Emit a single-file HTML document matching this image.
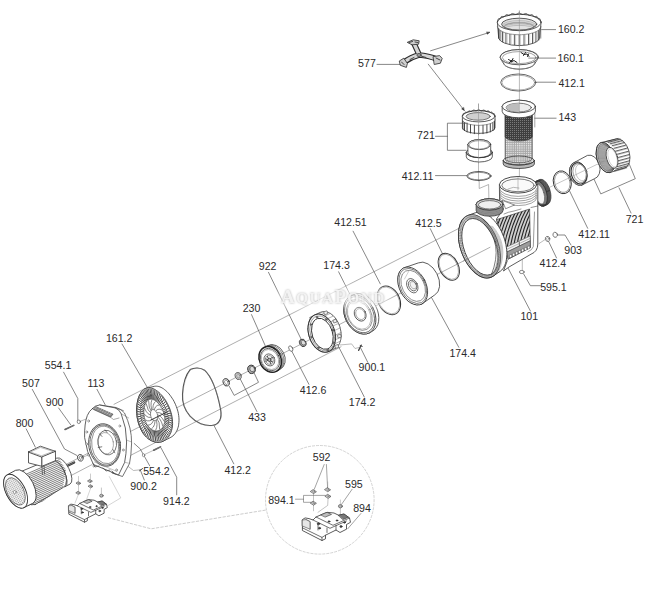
<!DOCTYPE html>
<html><head><meta charset="utf-8"><style>
html,body{margin:0;padding:0;background:#fff;}
svg{display:block;font-family:"Liberation Sans",sans-serif;}
</style></head><body>
<svg width="650" height="593" viewBox="0 0 650 593" stroke-linecap="round" stroke-linejoin="round">
<rect width="650" height="593" fill="#fff"/>
<line x1="114.0" y1="404.3" x2="462.0" y2="226.8" stroke="#777" stroke-width="0.6" />
<line x1="64.0" y1="465.5" x2="505.0" y2="239.7" stroke="#777" stroke-width="0.6" />
<line x1="128.0" y1="456.7" x2="341.0" y2="346.8" stroke="#777" stroke-width="0.6" />
<line x1="69.0" y1="476.6" x2="92.0" y2="464.6" stroke="#777" stroke-width="0.6" />
<line x1="519.4" y1="11.0" x2="519.4" y2="200.0" stroke="#777" stroke-width="0.5" />
<line x1="478.5" y1="104.0" x2="478.5" y2="181.0" stroke="#777" stroke-width="0.5" />
<polyline points="479.2,181.0 479.2,188.5 488.6,184.5 488.9,199.5" stroke="#777" stroke-width="0.55" fill="none" />
<line x1="541.5" y1="29.6" x2="555.6" y2="29.6" stroke="#555" stroke-width="0.7" />
<line x1="528.7" y1="58.1" x2="555.6" y2="58.1" stroke="#555" stroke-width="0.7" />
<line x1="535.8" y1="82.2" x2="555.6" y2="82.2" stroke="#555" stroke-width="0.7" />
<line x1="534.7" y1="118.2" x2="556.1" y2="118.2" stroke="#555" stroke-width="0.7" />
<line x1="377.0" y1="64.4" x2="403.9" y2="64.4" stroke="#555" stroke-width="0.7" />
<line x1="430.6" y1="50.8" x2="489.6" y2="32.4" stroke="#555" stroke-width="0.7" />
<polygon points="489.6,32.4 487.3,34.3 486.6,32.2" stroke="#333" stroke-width="0.4" fill="#333" />
<line x1="428.3" y1="64.2" x2="464.2" y2="110.4" stroke="#555" stroke-width="0.7" />
<polygon points="464.2,110.4 461.6,108.9 463.4,107.5" stroke="#333" stroke-width="0.4" fill="#333" />
<polyline points="462.6,123.2 447.4,123.2 447.4,150.3 466.0,150.3" stroke="#555" stroke-width="0.7" fill="none" />
<line x1="435.5" y1="136.3" x2="447.4" y2="136.3" stroke="#555" stroke-width="0.7" />
<line x1="435.5" y1="175.6" x2="466.8" y2="175.6" stroke="#555" stroke-width="0.7" />
<polyline points="593.8,178.7 600.8,193.9 635.3,178.7 629.0,163.5" stroke="#555" stroke-width="0.7" fill="none" />
<line x1="619.0" y1="187.8" x2="631.0" y2="213.0" stroke="#555" stroke-width="0.7" />
<line x1="569.5" y1="190.8" x2="587.7" y2="228.3" stroke="#555" stroke-width="0.7" />
<polyline points="555.0,235.0 565.0,235.0 571.0,245.0" stroke="#555" stroke-width="0.7" fill="none" />
<line x1="547.7" y1="239.5" x2="556.5" y2="257.9" stroke="#555" stroke-width="0.7" />
<line x1="545.5" y1="239.3" x2="539.1" y2="243.5" stroke="#777" stroke-width="0.5" />
<line x1="522.3" y1="259.6" x2="522.3" y2="270.5" stroke="#777" stroke-width="0.5" />
<polyline points="523.6,273.9 530.4,285.7 540.5,285.7" stroke="#555" stroke-width="0.7" fill="none" />
<line x1="507.6" y1="267.2" x2="530.4" y2="311.0" stroke="#555" stroke-width="0.7" />
<line x1="430.3" y1="228.7" x2="442.4" y2="253.6" stroke="#555" stroke-width="0.7" />
<line x1="430.7" y1="296.0" x2="458.8" y2="347.3" stroke="#555" stroke-width="0.7" />
<line x1="353.1" y1="231.2" x2="380.3" y2="283.9" stroke="#555" stroke-width="0.7" />
<line x1="338.6" y1="271.8" x2="350.7" y2="295.9" stroke="#555" stroke-width="0.7" />
<line x1="268.5" y1="272.3" x2="302.0" y2="341.0" stroke="#555" stroke-width="0.7" />
<line x1="251.5" y1="314.6" x2="268.0" y2="352.0" stroke="#555" stroke-width="0.7" />
<line x1="291.6" y1="350.8" x2="308.9" y2="384.3" stroke="#555" stroke-width="0.7" />
<line x1="338.9" y1="347.3" x2="364.3" y2="397.0" stroke="#555" stroke-width="0.7" />
<polyline points="340.0,345.0 351.6,343.9 355.0,348.5 359.7,347.3" stroke="#777" stroke-width="0.5" fill="none" />
<line x1="360.9" y1="348.5" x2="367.8" y2="362.4" stroke="#555" stroke-width="0.7" />
<polyline points="229.2,386.2 234.2,395.4 258.5,382.3 253.8,372.3" stroke="#555" stroke-width="0.7" fill="none" />
<line x1="240.0" y1="378.5" x2="256.9" y2="411.5" stroke="#555" stroke-width="0.7" />
<line x1="122.0" y1="344.0" x2="150.0" y2="392.0" stroke="#555" stroke-width="0.7" />
<line x1="97.0" y1="389.4" x2="105.1" y2="404.6" stroke="#555" stroke-width="0.7" />
<polyline points="63.6,372.2 77.8,398.5 77.8,420.8" stroke="#555" stroke-width="0.7" fill="none" />
<line x1="58.6" y1="408.0" x2="70.7" y2="424.8" stroke="#555" stroke-width="0.7" />
<polyline points="32.3,389.4 64.5,449.0 77.0,455.5" stroke="#555" stroke-width="0.7" fill="none" />
<line x1="26.2" y1="428.9" x2="35.3" y2="447.1" stroke="#555" stroke-width="0.7" />
<line x1="79.8" y1="421.4" x2="86.9" y2="418.8" stroke="#777" stroke-width="0.5" />
<line x1="82.9" y1="457.2" x2="90.0" y2="454.2" stroke="#777" stroke-width="0.5" />
<line x1="214.0" y1="425.5" x2="233.8" y2="463.8" stroke="#555" stroke-width="0.7" />
<polyline points="134.2,443.5 140.2,448.9 149.7,465.8" stroke="#555" stroke-width="0.7" fill="none" />
<polyline points="128.1,466.4 133.5,470.5 140.2,469.8" stroke="#777" stroke-width="0.5" fill="none" />
<line x1="140.2" y1="469.8" x2="144.3" y2="480.0" stroke="#555" stroke-width="0.7" />
<polyline points="161.2,448.2 176.7,477.2 176.7,494.8" stroke="#555" stroke-width="0.7" fill="none" />
<line x1="153.7" y1="450.2" x2="143.6" y2="455.0" stroke="#777" stroke-width="0.5" />
<path d="M497.40,22.5 L498.60,37 A20.6,8.6 0 0 0 539.80,37 L541.00,22.5 A21.8,8.2 0 0 0 497.40,22.5 Z" stroke="#333" stroke-width="0.8" fill="#fff" />
<ellipse cx="519.2" cy="22.5" rx="21.8" ry="8.2" stroke="#333" stroke-width="0.8" fill="#fff" />
<polyline points="497.4,21.3 497.4,21.2 497.4,21.2 497.4,21.2 497.5,21.2 497.5,21.3 497.5,21.3 497.6,21.4 497.6,21.3 497.7,21.2 497.7,21.0 497.8,20.8 497.9,20.5 498.0,20.2 498.0,19.8 498.1,19.5 498.2,19.2 498.4,18.9 498.5,18.8 498.6,18.7 498.7,18.6 498.8,18.7 499.0,18.7 499.1,18.8 499.3,18.9 499.4,18.9 499.6,18.9 499.8,18.8 500.0,18.6 500.1,18.4 500.3,18.1 500.5,17.8 500.7,17.5 500.9,17.1 501.1,16.9 501.3,16.6 501.6,16.5 501.8,16.4 502.0,16.4 502.3,16.4 502.5,16.5 502.7,16.6 503.0,16.7 503.3,16.8 503.5,16.8 503.8,16.7 504.1,16.6 504.3,16.4 504.6,16.1 504.9,15.8 505.2,15.5 505.5,15.2 505.8,15.0 506.1,14.8 506.4,14.7 506.7,14.6 507.0,14.6 507.3,14.7 507.6,14.8 508.0,15.0 508.3,15.1 508.6,15.2 509.0,15.2 509.3,15.2 509.6,15.1 510.0,14.9 510.3,14.7 510.7,14.5 511.0,14.2 511.4,13.9 511.7,13.7 512.1,13.6 512.5,13.5 512.8,13.5 513.2,13.6 513.6,13.7 513.9,13.8 514.3,14.0 514.7,14.2 515.0,14.3 515.4,14.4 515.8,14.4 516.2,14.3 516.5,14.2 516.9,14.0 517.3,13.8 517.7,13.6 518.1,13.4 518.4,13.2 518.8,13.1 519.2,13.1 519.6,13.1 520.0,13.2 520.3,13.4 520.7,13.6 521.1,13.8 521.5,14.0 521.9,14.2 522.2,14.3 522.6,14.4 523.0,14.4 523.4,14.3 523.7,14.2 524.1,14.0 524.5,13.8 524.8,13.7 525.2,13.6 525.6,13.5 525.9,13.5 526.3,13.6 526.7,13.7 527.0,13.9 527.4,14.2 527.7,14.5 528.1,14.7 528.4,14.9 528.8,15.1 529.1,15.2 529.4,15.2 529.8,15.2 530.1,15.1 530.4,15.0 530.8,14.8 531.1,14.7 531.4,14.6 531.7,14.6 532.0,14.7 532.3,14.8 532.6,15.0 532.9,15.2 533.2,15.5 533.5,15.8 533.8,16.1 534.1,16.4 534.3,16.6 534.6,16.7 534.9,16.8 535.1,16.8 535.4,16.7 535.7,16.6 535.9,16.5 536.1,16.4 536.4,16.4 536.6,16.4 536.8,16.5 537.1,16.6 537.3,16.9 537.5,17.1 537.7,17.5 537.9,17.8 538.1,18.1 538.3,18.4 538.4,18.6 538.6,18.8 538.8,18.9 539.0,18.9 539.1,18.9 539.3,18.8 539.4,18.7 539.6,18.7 539.7,18.6 539.8,18.7 539.9,18.8 540.0,18.9 540.2,19.2 540.3,19.5 540.4,19.8 540.4,20.2 540.5,20.5 540.6,20.8 540.7,21.0 540.7,21.2 540.8,21.3 540.8,21.4 540.9,21.3 540.9,21.3 540.9,21.2 541.0,21.2 541.0,21.2 541.0,21.2 541.0,21.3" stroke="#333" stroke-width="0.8" fill="none" />
<ellipse cx="519.2" cy="24.2" rx="17.6" ry="6.0" stroke="#333" stroke-width="0.8" fill="#e2e2e2" />
<path d="M502.4,25.2 A16.8,4.6 0 0 1 536.0,25.2" stroke="#888" stroke-width="0.45" fill="none" />
<path d="M503.0,26.3 A16.2,4.1 0 0 1 535.4,26.3" stroke="#888" stroke-width="0.45" fill="none" />
<path d="M503.6,27.4 A15.6,3.6 0 0 1 534.8,27.4" stroke="#888" stroke-width="0.45" fill="none" />
<path d="M504.2,28.5 A15.0,3.1 0 0 1 534.2,28.5" stroke="#888" stroke-width="0.45" fill="none" />
<ellipse cx="519.2" cy="26.4" rx="14.8" ry="3.6" stroke="#666" stroke-width="0.5" fill="none" />
<line x1="498.5" y1="28.7" x2="498.5" y2="38.2" stroke="#333" stroke-width="0.8" />
<line x1="499.7" y1="28.7" x2="499.7" y2="38.2" stroke="#999" stroke-width="0.5" />
<line x1="500.0" y1="30.5" x2="500.0" y2="40.0" stroke="#333" stroke-width="0.8" />
<line x1="501.2" y1="30.5" x2="501.2" y2="40.0" stroke="#999" stroke-width="0.5" />
<line x1="502.5" y1="32.0" x2="502.5" y2="41.7" stroke="#333" stroke-width="0.8" />
<line x1="503.7" y1="32.0" x2="503.7" y2="41.7" stroke="#999" stroke-width="0.5" />
<line x1="505.9" y1="33.4" x2="505.9" y2="43.0" stroke="#333" stroke-width="0.8" />
<line x1="507.1" y1="33.4" x2="507.1" y2="43.0" stroke="#999" stroke-width="0.5" />
<line x1="509.9" y1="34.4" x2="509.9" y2="44.0" stroke="#333" stroke-width="0.8" />
<line x1="511.1" y1="34.4" x2="511.1" y2="44.0" stroke="#999" stroke-width="0.5" />
<line x1="514.4" y1="35.0" x2="514.4" y2="44.7" stroke="#333" stroke-width="0.8" />
<line x1="515.6" y1="35.0" x2="515.6" y2="44.7" stroke="#999" stroke-width="0.5" />
<line x1="519.2" y1="35.2" x2="519.2" y2="44.9" stroke="#333" stroke-width="0.8" />
<line x1="520.4" y1="35.2" x2="520.4" y2="44.9" stroke="#999" stroke-width="0.5" />
<line x1="524.0" y1="35.0" x2="524.0" y2="44.7" stroke="#333" stroke-width="0.8" />
<line x1="525.2" y1="35.0" x2="525.2" y2="44.7" stroke="#999" stroke-width="0.5" />
<line x1="528.5" y1="34.4" x2="528.5" y2="44.0" stroke="#333" stroke-width="0.8" />
<line x1="529.7" y1="34.4" x2="529.7" y2="44.0" stroke="#999" stroke-width="0.5" />
<line x1="532.5" y1="33.4" x2="532.5" y2="43.0" stroke="#333" stroke-width="0.8" />
<line x1="533.7" y1="33.4" x2="533.7" y2="43.0" stroke="#999" stroke-width="0.5" />
<line x1="535.9" y1="32.0" x2="535.9" y2="41.7" stroke="#333" stroke-width="0.8" />
<line x1="537.1" y1="32.0" x2="537.1" y2="41.7" stroke="#999" stroke-width="0.5" />
<line x1="538.4" y1="30.5" x2="538.4" y2="40.0" stroke="#333" stroke-width="0.8" />
<line x1="539.6" y1="30.5" x2="539.6" y2="40.0" stroke="#999" stroke-width="0.5" />
<line x1="539.9" y1="28.7" x2="539.9" y2="38.2" stroke="#333" stroke-width="0.8" />
<line x1="541.1" y1="28.7" x2="541.1" y2="38.2" stroke="#999" stroke-width="0.5" />
<polyline points="541.0,26.5 540.9,27.4 540.5,28.2 539.9,29.0 539.1,29.8 538.1,30.6 536.8,31.3 535.4,32.0 533.8,32.6 532.0,33.1 530.1,33.6 528.1,34.0 525.9,34.3 523.7,34.5 521.5,34.7 519.2,34.7 516.9,34.7 514.7,34.5 512.5,34.3 510.3,34.0 508.3,33.6 506.4,33.1 504.6,32.6 503.0,32.0 501.6,31.3 500.3,30.6 499.3,29.8 498.5,29.0 497.9,28.2 497.5,27.4 497.4,26.5" stroke="#555" stroke-width="0.6" fill="none" />
<polygon points="500.2,57.2 500.3,56.5 500.5,55.9 500.8,55.2 501.3,54.6 502.0,54.0 502.7,53.4 503.6,52.8 504.6,52.3 505.8,51.8 507.0,51.4 508.3,51.0 509.7,50.6 511.2,50.3 512.7,50.1 514.3,49.9 515.9,49.7 517.5,49.6 519.2,49.6 520.9,49.6 522.5,49.7 524.1,49.9 525.7,50.1 527.2,50.3 528.7,50.6 530.1,51.0 531.4,51.4 532.6,51.8 533.8,52.3 534.8,52.8 535.7,53.4 536.4,54.0 537.1,54.6 537.6,55.2 537.9,55.9 538.1,56.5 538.2,57.2 538.1,57.9 537.9,58.5 537.6,59.2 534.3,64.4 533.9,65.0 533.3,65.5 532.7,66.0 532.0,66.4 531.2,66.8 530.2,67.3 529.2,67.6 528.1,68.0 527.0,68.3 525.8,68.5 524.5,68.7 523.2,68.9 521.9,69.0 520.6,69.1 519.2,69.1 517.8,69.1 516.5,69.0 515.2,68.9 513.9,68.7 512.6,68.5 511.4,68.3 510.3,68.0 509.2,67.6 508.2,67.3 507.2,66.8 506.4,66.4 505.7,66.0 505.1,65.5 504.5,65.0 504.1,64.4 500.8,59.2 500.5,58.5 500.3,57.9" stroke="#333" stroke-width="0.8" fill="#fff" />
<ellipse cx="519.2" cy="62.8" rx="15.6" ry="6.3" stroke="#777" stroke-width="0.5" fill="none" />
<ellipse cx="519.2" cy="57.2" rx="19.0" ry="7.6" stroke="#333" stroke-width="0.8" fill="#fff" />
<ellipse cx="519.2" cy="57.6" rx="16.8" ry="6.0" stroke="#666" stroke-width="0.6" fill="none" />
<path d="M508.5,59.5 L512,61.5 L514,60.5 L517,62.5 M509.5,62.5 L512.5,59.5 M511.5,62 L513,58.5" stroke="#222" stroke-width="1.0" fill="none" />
<path d="M521,52.5 L524,54.5 L527,54 L529,56.5 M523.5,55.5 L525.5,52.5 M527.5,56.5 L528.5,54" stroke="#222" stroke-width="1.0" fill="none" />
<ellipse cx="518.3" cy="82.5" rx="17.6" ry="8.5" stroke="#444" stroke-width="0.8" fill="none" />
<ellipse cx="518.3" cy="82.6" rx="16.4" ry="7.4" stroke="#777" stroke-width="0.6" fill="none" />
<defs><pattern id="dm" width="2" height="2" patternUnits="userSpaceOnUse"><rect width="2" height="2" fill="#3e3e3e"/><rect width="1" height="1" fill="#7a7a7a"/></pattern><pattern id="lm" width="2.2" height="2.2" patternUnits="userSpaceOnUse"><rect width="2.2" height="2.2" fill="#a8a8a8"/><rect width="1.2" height="1.2" fill="#efefef"/></pattern></defs>
<path d="M505.2,112 L505.2,159 A13.6,4.5 0 0 0 532.2,159 L532.2,112 Z" stroke="#333" stroke-width="0.7" fill="url(#lm)" />
<path d="M505.2,112 L505.2,137 A13.6,4.5 0 0 0 532.2,137 L532.2,112 Z" stroke="#333" stroke-width="0.7" fill="url(#dm)" />
<path d="M503.20,160.5 L503.20,164 A15.6,4.5 0 0 0 534.40,164 L534.40,160.5 A15.6,4.5 0 0 1 503.20,160.5 Z" stroke="#333" stroke-width="0.8" fill="#b8b8b8" />
<ellipse cx="518.8" cy="160.5" rx="15.6" ry="4.5" stroke="#333" stroke-width="0.8" fill="none" />
<path d="M505.2,160.5 A13.6,4.5 0 0 0 532.2,160.5" stroke="#555" stroke-width="0.6" fill="none" />
<path d="M502.20,106.50 L502.20,111.50 A16.60,6.30 0 0 0 535.40,111.50 L535.40,106.50 A16.60,6.30 0 0 0 502.20,106.50 Z" stroke="#333" stroke-width="0.8" fill="#fff" />
<ellipse cx="518.8" cy="106.5" rx="16.6" ry="6.3" stroke="#333" stroke-width="0.8" fill="#fff" />
<ellipse cx="518.8" cy="107.6" rx="12.6" ry="4.4" stroke="#444" stroke-width="0.7" fill="#ececec" />
<path d="M506.4,108 A12.6,4.4 0 0 1 519,103.2 L519,111.9 A12.6,4.4 0 0 1 506.4,108 Z" stroke="none" stroke-width="0" fill="#bdbdbd" />
<line x1="534.8" y1="113.0" x2="534.8" y2="127.0" stroke="#666" stroke-width="0.6" />
<path d="M413.5,42.5 Q417,50 419,54.5 M403.5,62.5 Q411,57 419,55 Q428,55.5 438,59.5" stroke="#2a2a2a" stroke-width="5.6" fill="none" stroke-linecap="butt"/>
<path d="M413.5,42.5 Q417,50 419,54.5 M403.5,62.5 Q411,57 419,55 Q428,55.5 438,59.5" stroke="#d6d6d6" stroke-width="3.4" fill="none" stroke-linecap="butt"/>
<polygon points="407.6,42.2 413.2,39.8 419.2,40.8 418.6,44.2 412.4,44.8" stroke="#2a2a2a" stroke-width="0.8" fill="#cfcfcf" />
<polygon points="399.6,60.8 403.8,58.2 407.4,63.4 406.4,67.4 400.6,65.4" stroke="#2a2a2a" stroke-width="0.8" fill="#cfcfcf" />
<polygon points="433.4,56.6 439.6,55.6 442.2,58.4 440.4,63.2 434.6,64.4" stroke="#2a2a2a" stroke-width="0.8" fill="#cfcfcf" />
<path d="M409,42.5 L412.5,41.5 M415,42 L418,42.5 M401.5,62 L404,64.5 M436,58 L440,60 M421,56 L426,57.5 M410,59.5 L414,57.5" stroke="#333" stroke-width="0.9" fill="none" />
<ellipse cx="419.0" cy="55.0" rx="2.2" ry="1.6" stroke="#333" stroke-width="0.7" fill="#999" />
<path d="M462.40,116.30 L462.40,127.80 A16.30,5.60 0 0 0 495.00,127.80 L495.00,116.30 A16.30,5.60 0 0 0 462.40,116.30 Z" stroke="#333" stroke-width="0.8" fill="#fff" />
<ellipse cx="478.7" cy="116.3" rx="16.3" ry="5.6" stroke="#333" stroke-width="0.8" fill="#fff" />
<polyline points="462.4,115.4 462.4,115.3 462.4,115.3 462.4,115.3 462.4,115.4 462.5,115.4 462.5,115.5 462.5,115.5 462.6,115.5 462.6,115.4 462.6,115.3 462.7,115.1 462.8,114.9 462.8,114.7 462.9,114.4 463.0,114.2 463.0,114.0 463.1,113.8 463.2,113.7 463.3,113.6 463.4,113.6 463.5,113.6 463.6,113.7 463.7,113.7 463.8,113.8 463.9,113.8 464.0,113.8 464.2,113.8 464.3,113.6 464.4,113.5 464.6,113.3 464.7,113.0 464.9,112.8 465.0,112.6 465.2,112.4 465.3,112.2 465.5,112.1 465.7,112.1 465.9,112.1 466.0,112.1 466.2,112.2 466.4,112.3 466.6,112.3 466.8,112.4 467.0,112.4 467.2,112.3 467.4,112.2 467.6,112.1 467.8,111.9 468.0,111.7 468.2,111.5 468.4,111.3 468.7,111.1 468.9,111.0 469.1,110.9 469.4,110.8 469.6,110.9 469.8,110.9 470.1,111.0 470.3,111.1 470.5,111.2 470.8,111.3 471.0,111.3 471.3,111.3 471.6,111.2 471.8,111.1 472.1,111.0 472.3,110.8 472.6,110.6 472.9,110.4 473.1,110.2 473.4,110.1 473.7,110.1 473.9,110.1 474.2,110.1 474.5,110.2 474.8,110.3 475.0,110.5 475.3,110.6 475.6,110.7 475.9,110.8 476.2,110.8 476.4,110.7 476.7,110.6 477.0,110.5 477.3,110.3 477.6,110.2 477.8,110.0 478.1,109.9 478.4,109.8 478.7,109.8 479.0,109.8 479.3,109.9 479.6,110.0 479.8,110.2 480.1,110.3 480.4,110.5 480.7,110.6 481.0,110.7 481.2,110.8 481.5,110.8 481.8,110.7 482.1,110.6 482.4,110.5 482.6,110.3 482.9,110.2 483.2,110.1 483.5,110.1 483.7,110.1 484.0,110.1 484.3,110.2 484.5,110.4 484.8,110.6 485.1,110.8 485.3,111.0 485.6,111.1 485.8,111.2 486.1,111.3 486.4,111.3 486.6,111.3 486.8,111.2 487.1,111.1 487.3,111.0 487.6,110.9 487.8,110.9 488.0,110.8 488.3,110.9 488.5,111.0 488.7,111.1 489.0,111.3 489.2,111.5 489.4,111.7 489.6,111.9 489.8,112.1 490.0,112.2 490.2,112.3 490.4,112.4 490.6,112.4 490.8,112.3 491.0,112.3 491.2,112.2 491.4,112.1 491.5,112.1 491.7,112.1 491.9,112.1 492.1,112.2 492.2,112.4 492.4,112.6 492.5,112.8 492.7,113.0 492.8,113.3 493.0,113.5 493.1,113.6 493.2,113.8 493.4,113.8 493.5,113.8 493.6,113.8 493.7,113.7 493.8,113.7 493.9,113.6 494.0,113.6 494.1,113.6 494.2,113.7 494.3,113.8 494.4,114.0 494.4,114.2 494.5,114.4 494.6,114.7 494.6,114.9 494.7,115.1 494.8,115.3 494.8,115.4 494.8,115.5 494.9,115.5 494.9,115.5 494.9,115.4 495.0,115.4 495.0,115.3 495.0,115.3 495.0,115.3 495.0,115.4" stroke="#333" stroke-width="0.8" fill="none" />
<ellipse cx="478.2" cy="116.4" rx="12.1" ry="3.8" stroke="#444" stroke-width="0.7" fill="#d0d0d0" />
<line x1="462.9" y1="121.3" x2="462.9" y2="129.0" stroke="#333" stroke-width="0.9" />
<line x1="464.5" y1="122.6" x2="464.5" y2="130.6" stroke="#333" stroke-width="0.9" />
<line x1="467.1" y1="123.8" x2="467.1" y2="131.9" stroke="#333" stroke-width="0.9" />
<line x1="470.5" y1="124.7" x2="470.5" y2="133.0" stroke="#333" stroke-width="0.9" />
<line x1="474.4" y1="125.3" x2="474.4" y2="133.7" stroke="#333" stroke-width="0.9" />
<line x1="478.7" y1="125.5" x2="478.7" y2="133.9" stroke="#333" stroke-width="0.9" />
<line x1="483.0" y1="125.3" x2="483.0" y2="133.7" stroke="#333" stroke-width="0.9" />
<line x1="486.9" y1="124.7" x2="486.9" y2="133.0" stroke="#333" stroke-width="0.9" />
<line x1="490.3" y1="123.8" x2="490.3" y2="131.9" stroke="#333" stroke-width="0.9" />
<line x1="492.9" y1="122.6" x2="492.9" y2="130.6" stroke="#333" stroke-width="0.9" />
<line x1="494.5" y1="121.3" x2="494.5" y2="129.0" stroke="#333" stroke-width="0.9" />
<polyline points="495.0,119.7 494.9,120.3 494.6,120.9 494.2,121.4 493.6,122.0 492.8,122.5 491.9,123.0 490.8,123.4 489.6,123.9 488.3,124.2 486.8,124.5 485.3,124.8 483.7,125.0 482.1,125.2 480.4,125.3 478.7,125.3 477.0,125.3 475.3,125.2 473.7,125.0 472.1,124.8 470.6,124.5 469.1,124.2 467.8,123.9 466.6,123.4 465.5,123.0 464.6,122.5 463.8,122.0 463.2,121.4 462.8,120.9 462.5,120.3 462.4,119.7" stroke="#555" stroke-width="0.6" fill="none" />
<path d="M466.30,152.50 L466.30,156.80 A13.00,5.20 0 0 0 492.30,156.80 L492.30,152.50 A13.00,5.20 0 0 0 466.30,152.50 Z" stroke="#333" stroke-width="0.8" fill="#fff" />
<ellipse cx="479.3" cy="152.5" rx="13.0" ry="5.2" stroke="#333" stroke-width="0.8" fill="#fff" />
<path d="M467.90,144.60 L467.90,152.50 A11.40,5.00 0 0 0 490.70,152.50 L490.70,144.60 A11.40,5.00 0 0 0 467.90,144.60 Z" stroke="#333" stroke-width="0.8" fill="#fff" />
<ellipse cx="479.3" cy="144.6" rx="11.4" ry="5.0" stroke="#333" stroke-width="0.8" fill="#fff" />
<ellipse cx="479.3" cy="144.9" rx="10.2" ry="4.2" stroke="#666" stroke-width="0.6" fill="none" />
<path d="M466.3,152.5 A13,5.2 0 0 0 492.3,152.5" stroke="#333" stroke-width="0.7" fill="none" />
<ellipse cx="479.0" cy="176.0" rx="12.1" ry="4.5" stroke="#333" stroke-width="0.8" fill="none" />
<ellipse cx="479.0" cy="176.1" rx="11.1" ry="3.7" stroke="#555" stroke-width="0.6" fill="none" />
<polygon points="532.9,188.9 532.9,187.9 533.0,187.0 533.2,186.1 533.4,185.2 533.6,184.4 533.9,183.7 534.3,183.0 534.7,182.5 535.1,182.0 535.6,181.6 536.1,181.3 539.5,179.7 540.0,179.5 540.6,179.4 541.2,179.4 541.8,179.5 542.4,179.6 543.0,179.9 543.7,180.3 544.3,180.7 544.9,181.3 545.6,181.9 546.2,182.6 546.7,183.3 547.3,184.2 547.8,185.1 548.3,186.0 548.8,187.0 549.2,188.0 549.6,189.1 549.9,190.2 550.2,191.3 550.5,192.4 550.7,193.5 550.8,194.6 550.9,195.6 550.9,196.7 550.9,197.7 550.8,198.6 550.6,199.5 550.4,200.4 550.2,201.2 549.9,201.9 549.5,202.6 549.1,203.1 548.7,203.6 548.2,204.0 547.7,204.3 544.3,205.9 543.8,206.1 543.2,206.2 542.6,206.2 542.0,206.1 541.4,206.0 540.8,205.7 540.1,205.3 539.5,204.9 538.9,204.3 538.2,203.7 537.6,203.0 537.1,202.3 536.5,201.4 536.0,200.5 535.5,199.6 535.0,198.6 534.6,197.6 534.2,196.5 533.9,195.4 533.6,194.3 533.3,193.2 533.1,192.1 533.0,191.0 532.9,190.0" stroke="#333" stroke-width="0.8" fill="#8a8a8a" />
<ellipse cx="540.2" cy="193.6" rx="6.6" ry="13.0" stroke="#333" stroke-width="0.8" fill="#7a7a7a" transform="rotate(-16 540.2 193.6)" />
<ellipse cx="540.2" cy="193.6" rx="6.6" ry="13.0" stroke="#333" stroke-width="0.4" fill="none" transform="rotate(-16 540.2 193.6)" />
<ellipse cx="540.7" cy="193.4" rx="6.6" ry="13.0" stroke="#333" stroke-width="0.4" fill="none" transform="rotate(-16 540.7 193.4)" />
<ellipse cx="541.2" cy="193.1" rx="6.6" ry="13.0" stroke="#333" stroke-width="0.4" fill="none" transform="rotate(-16 541.2 193.1)" />
<ellipse cx="541.7" cy="192.9" rx="6.6" ry="13.0" stroke="#333" stroke-width="0.4" fill="none" transform="rotate(-16 541.7 192.9)" />
<ellipse cx="542.2" cy="192.7" rx="6.6" ry="13.0" stroke="#333" stroke-width="0.4" fill="none" transform="rotate(-16 542.2 192.7)" />
<ellipse cx="542.7" cy="192.4" rx="6.6" ry="13.0" stroke="#333" stroke-width="0.4" fill="none" transform="rotate(-16 542.7 192.4)" />
<ellipse cx="543.2" cy="192.2" rx="6.6" ry="13.0" stroke="#333" stroke-width="0.4" fill="none" transform="rotate(-16 543.2 192.2)" />
<ellipse cx="539.4" cy="194.0" rx="4.6" ry="10.4" stroke="#555" stroke-width="0.6" fill="#f4f4f4" transform="rotate(-16 539.4 194.0)" />
<path d="M499.4,185 L499.6,203 L503.5,209 L496.5,219 L507.2,261 L503.5,271 L509,267 L531,254.2 Q537.8,251.5 537.8,244 L537.8,185 Z" stroke="#333" stroke-width="0.8" fill="#fff" />
<path d="M499.6,188.5 A18.4,7.8 0 0 0 536.8,188.5" stroke="#555" stroke-width="0.55" fill="none" />
<path d="M499.6,190.8 A18.4,7.8 0 0 0 536.8,190.8" stroke="#555" stroke-width="0.55" fill="none" />
<path d="M499.6,193.1 A18.4,7.8 0 0 0 536.8,193.1" stroke="#555" stroke-width="0.55" fill="none" />
<path d="M499.6,195.4 A18.4,7.8 0 0 0 536.8,195.4" stroke="#555" stroke-width="0.55" fill="none" />
<path d="M499.6,197.7 A18.4,7.8 0 0 0 536.8,197.7" stroke="#555" stroke-width="0.55" fill="none" />
<ellipse cx="518.0" cy="184.8" rx="18.6" ry="8.3" stroke="#333" stroke-width="0.9" fill="#fff" />
<ellipse cx="518.0" cy="185.3" rx="16.2" ry="6.4" stroke="#444" stroke-width="0.7" fill="#fafafa" />
<path d="M508,189 Q513,186 519,188" stroke="#777" stroke-width="0.5" fill="none" />
<path d="M537.8,206 L531,207.5" stroke="#444" stroke-width="0.6" fill="none" />
<path d="M534.5,212 L533.3,246.5 Q532.5,250 528,251.8" stroke="#555" stroke-width="0.6" fill="none" />
<clipPath id="win"><polygon points="497,219.5 529.6,209 530.2,236 505.5,247.5"/></clipPath>
<polygon points="497.0,219.5 529.6,209.0 530.4,247.5 508.5,259.0" stroke="#444" stroke-width="0.7" fill="#cfcfcf" />
<g clip-path="url(#win)"><path d="M487.7,252 Q491.7,226 502.7,207" stroke="#262626" stroke-width="1.1" fill="none"/><path d="M490.8,252 Q494.8,226 505.8,207" stroke="#262626" stroke-width="1.1" fill="none"/><path d="M493.9,252 Q497.9,226 508.9,207" stroke="#262626" stroke-width="1.1" fill="none"/><path d="M497.0,252 Q501.0,226 512.0,207" stroke="#262626" stroke-width="1.1" fill="none"/><path d="M500.1,252 Q504.1,226 515.1,207" stroke="#262626" stroke-width="1.1" fill="none"/><path d="M503.2,252 Q507.2,226 518.2,207" stroke="#262626" stroke-width="1.1" fill="none"/><path d="M506.3,252 Q510.3,226 521.3,207" stroke="#262626" stroke-width="1.1" fill="none"/><path d="M509.4,252 Q513.4,226 524.4,207" stroke="#262626" stroke-width="1.1" fill="none"/><path d="M512.5,252 Q516.5,226 527.5,207" stroke="#262626" stroke-width="1.1" fill="none"/><path d="M515.6,252 Q519.6,226 530.6,207" stroke="#262626" stroke-width="1.1" fill="none"/><path d="M518.7,252 Q522.7,226 533.7,207" stroke="#262626" stroke-width="1.1" fill="none"/><path d="M521.8,252 Q525.8,226 536.8,207" stroke="#262626" stroke-width="1.1" fill="none"/><path d="M524.9,252 Q528.9,226 539.9,207" stroke="#262626" stroke-width="1.1" fill="none"/><path d="M528.0,252 Q532.0,226 543.0,207" stroke="#262626" stroke-width="1.1" fill="none"/><path d="M531.1,252 Q535.1,226 546.1,207" stroke="#262626" stroke-width="1.1" fill="none"/><path d="M534.2,252 Q538.2,226 549.2,207" stroke="#262626" stroke-width="1.1" fill="none"/></g>
<polygon points="505.5,247.5 530.2,236.0 530.3,240.8 507.0,252.0" stroke="#444" stroke-width="0.6" fill="#f2f2f2" />
<line x1="519.3" y1="242.0" x2="519.5" y2="250.5" stroke="#444" stroke-width="0.8" />
<line x1="506.2" y1="249.6" x2="530.2" y2="238.4" stroke="#777" stroke-width="0.5" />
<polygon points="507.0,252.0 530.3,240.8 530.4,247.5 508.5,259.0" stroke="#444" stroke-width="0.6" fill="#9c9c9c" />
<polygon points="509.5,255.2 511.5,254.2 511.9,256.8 509.9,257.8" stroke="#333" stroke-width="0.4" fill="#fff" />
<polygon points="512.5,253.8 514.5,252.8 514.9,255.4 512.9,256.3" stroke="#333" stroke-width="0.4" fill="#fff" />
<polygon points="515.5,252.4 517.5,251.4 517.9,254.0 515.9,254.9" stroke="#333" stroke-width="0.4" fill="#fff" />
<polygon points="518.5,250.9 520.5,250.0 520.9,252.5 518.9,253.5" stroke="#333" stroke-width="0.4" fill="#fff" />
<polygon points="521.5,249.5 523.5,248.6 523.9,251.1 521.9,252.1" stroke="#333" stroke-width="0.4" fill="#fff" />
<polygon points="524.5,248.1 526.5,247.2 526.9,249.7 524.9,250.7" stroke="#333" stroke-width="0.4" fill="#fff" />
<polygon points="527.5,246.7 529.5,245.7 529.9,248.3 527.9,249.2" stroke="#333" stroke-width="0.4" fill="#fff" />
<polygon points="458.5,233.9 458.6,231.4 458.9,229.1 459.4,226.8 460.0,224.7 460.7,222.8 461.6,221.0 462.7,219.5 463.8,218.1 465.1,217.0 466.5,216.1 468.0,215.4 475.3,212.8 476.9,212.4 478.5,212.2 480.1,212.2 481.9,212.4 483.6,212.9 485.4,213.7 487.1,214.6 488.9,215.7 490.7,217.1 492.4,218.7 494.1,220.4 495.7,222.3 497.2,224.4 498.7,226.6 500.1,228.9 501.4,231.3 502.5,233.9 503.6,236.5 504.5,239.1 505.2,241.8 505.9,244.4 506.3,247.1 506.7,249.7 506.9,252.3 506.9,254.8 506.7,257.2 506.4,259.5 506.0,261.7 505.4,263.7 504.7,265.6 503.8,267.3 502.8,268.8 501.7,270.1 500.4,271.2 493.9,275.6 492.5,276.5 491.0,277.2 489.4,277.7 487.8,277.9 486.1,277.9 484.3,277.6 482.5,277.1 480.7,276.4 478.8,275.4 477.0,274.2 475.2,272.8 473.4,271.2 471.7,269.4 470.0,267.4 468.4,265.3 466.9,263.0 465.5,260.6 464.1,258.1 462.9,255.5 461.9,252.9 460.9,250.1 460.1,247.4 459.5,244.6 459.0,241.9 458.7,239.2 458.5,236.5" stroke="#333" stroke-width="0.9" fill="#fff" />
<ellipse cx="479.5" cy="246.3" rx="18.8" ry="33.0" stroke="#333" stroke-width="0.9" fill="#fff" transform="rotate(-20.4 479.5 246.3)" />
<path d="M496.7,239.9 L495.5,242.0 M497.4,241.6 L496.0,243.6 M497.9,243.4 L496.5,245.2 M498.4,245.2 L497.0,246.9 M498.9,247.0 L497.3,248.5 M499.2,248.7 L497.7,250.1 M499.6,250.5 L497.9,251.7 M499.8,252.2 L498.1,253.3 M500.0,254.0 L498.3,254.9 M500.1,255.7 L498.4,256.5 M500.1,257.4 L498.4,258.0 M500.1,259.0 L498.4,259.5 M500.0,260.6 L498.3,260.9 M499.9,262.2 L498.1,262.3 M499.6,263.7 L497.9,263.7 M499.4,265.1 L497.7,265.0 M499.0,266.5 L497.3,266.2 M498.6,267.8 L497.0,267.4 M498.1,269.1 L496.5,268.5 M497.6,270.2 L496.0,269.5 M497.0,271.3 L495.5,270.4 M496.3,272.4 L494.9,271.3 M495.6,273.3 L494.3,272.1 M494.8,274.1 L493.6,272.8 M494.0,274.9 L492.8,273.5 M493.2,275.5 L492.1,274.0 M492.3,276.1 L491.3,274.5 M491.3,276.6 L490.4,274.8 M490.3,276.9 L489.5,275.1 M489.3,277.2 L488.6,275.3 M488.3,277.4 L487.7,275.4 M487.2,277.4 L486.7,275.4 M486.1,277.4 L485.7,275.3 M484.9,277.3 L484.7,275.1 M483.8,277.0 L483.7,274.8 M482.6,276.7 L482.6,274.4 M481.5,276.2 L481.6,274.0 M480.3,275.7 L480.5,273.4 M479.1,275.1 L479.5,272.8 M477.9,274.3 L478.4,272.1 M476.8,273.5 L477.4,271.2 M475.6,272.6 L476.3,270.4 M474.5,271.6 L475.3,269.4 M473.3,270.5 L474.3,268.4 M472.2,269.4 L473.3,267.3 M471.1,268.2 L472.4,266.1 M470.1,266.9 L471.4,264.8 M469.0,265.5 L470.5,263.5 M468.0,264.1 L469.6,262.2 M467.1,262.6 L468.8,260.8 M466.1,261.0 L467.9,259.3 M465.3,259.4 L467.2,257.9 M464.4,257.8 L466.4,256.3 M463.7,256.1 L465.7,254.8 M462.9,254.4 L465.1,253.2 M462.3,252.7 L464.5,251.6 M461.6,251.0 L464.0,250.0 M461.1,249.2 L463.5,248.4 M460.6,247.4 L463.0,246.7 M460.1,245.6 L462.7,245.1 M459.8,243.9 L462.3,243.5 M459.4,242.1 L462.1,241.9 M459.2,240.4 L461.9,240.3 M459.0,238.6 L461.7,238.7 M458.9,236.9 L461.6,237.1 M458.9,235.2 L461.6,235.6 M458.9,233.6 L461.6,234.1 M459.0,232.0 L461.7,232.7 M459.1,230.4 L461.9,231.3 M459.4,228.9 L462.1,229.9 M459.6,227.5 L462.3,228.6 M460.0,226.1 L462.7,227.4 M460.4,224.8 L463.0,226.2 M460.9,223.5 L463.5,225.1 M461.4,222.4 L464.0,224.1 M462.0,221.3 L464.5,223.2 M462.7,220.2 L465.1,222.3 M463.4,219.3 L465.7,221.5 M464.2,218.5 L466.4,220.8 M465.0,217.7 L467.2,220.1 M465.8,217.1 L467.9,219.6 M466.7,216.5 L468.7,219.1 M467.7,216.0 L469.6,218.8 M468.7,215.7 L470.5,218.5 M469.7,215.4 L471.4,218.3 M470.7,215.2 L472.3,218.2 M471.8,215.2 L473.3,218.2 M472.9,215.2 L474.3,218.3 M474.1,215.3 L475.3,218.5 M475.2,215.6 L476.3,218.8 M476.4,215.9 L477.4,219.2 M477.5,216.4 L478.4,219.6 M478.7,216.9 L479.5,220.2 M479.9,217.5 L480.5,220.8 M481.1,218.3 L481.6,221.5 M482.2,219.1 L482.6,222.4 M483.4,220.0 L483.7,223.2 M484.5,221.0 L484.7,224.2 M485.7,222.1 L485.7,225.2 M486.8,223.2 L486.7,226.3 M487.9,224.4 L487.6,227.5 M488.9,225.7 L488.6,228.8 M490.0,227.1 L489.5,230.1 M491.0,228.5 L490.4,231.4 M491.9,230.0 L491.2,232.8 M492.9,231.6 L492.1,234.3 M493.7,233.2 L492.8,235.7 M494.6,234.8 L493.6,237.3 M495.3,236.5 L494.3,238.8 M496.1,238.2 L494.9,240.4" stroke="#555" stroke-width="0.55" fill="none"/>
<ellipse cx="479.7" cy="246.5" rx="17.4" ry="31.3" stroke="#777" stroke-width="0.5" fill="none" transform="rotate(-20.4 479.7 246.5)" />
<ellipse cx="480.0" cy="246.8" rx="16.0" ry="29.6" stroke="#333" stroke-width="0.8" fill="#fff" transform="rotate(-20.4 480.0 246.8)" />
<line x1="463.5" y1="260.9" x2="490.0" y2="247.3" stroke="#777" stroke-width="0.6" />
<path d="M483.5,223.5 Q504,243 491.5,274.5" stroke="#444" stroke-width="0.7" fill="none" />
<path d="M485.5,224 Q506,244 493.5,273.5" stroke="#666" stroke-width="0.5" fill="none" />
<path d="M487.3,225.0 Q507.0,245 495.0,272.5" stroke="#888" stroke-width="0.45" fill="none" />
<path d="M488.6,225.3 Q507.6,245 496.0,272.1" stroke="#888" stroke-width="0.45" fill="none" />
<path d="M489.9,225.6 Q508.2,245 497.0,271.7" stroke="#888" stroke-width="0.45" fill="none" />
<path d="M491.2,225.9 Q508.8,245 498.0,271.3" stroke="#888" stroke-width="0.45" fill="none" />
<path d="M492.5,226.2 Q509.4,245 499.0,270.9" stroke="#888" stroke-width="0.45" fill="none" />
<path d="M476.20,204.40 L476.20,210.60 A13.40,5.60 0 0 0 503.00,210.60 L503.00,204.40 A13.40,5.60 0 0 0 476.20,204.40 Z" stroke="#333" stroke-width="0.8" fill="#9a9a9a" />
<ellipse cx="489.6" cy="204.4" rx="13.4" ry="5.6" stroke="#333" stroke-width="0.8" fill="#9a9a9a" />
<path d="M476.2,205.5 A13.4,5.6 0 0 0 503.0,205.5" stroke="#666" stroke-width="0.45" fill="none" />
<path d="M476.2,206.9 A13.4,5.6 0 0 0 503.0,206.9" stroke="#666" stroke-width="0.45" fill="none" />
<path d="M476.2,208.3 A13.4,5.6 0 0 0 503.0,208.3" stroke="#666" stroke-width="0.45" fill="none" />
<path d="M476.2,209.7 A13.4,5.6 0 0 0 503.0,209.7" stroke="#666" stroke-width="0.45" fill="none" />
<ellipse cx="489.6" cy="204.4" rx="13.4" ry="5.6" stroke="#333" stroke-width="0.8" fill="#d5d5d5" />
<ellipse cx="489.6" cy="204.8" rx="11.2" ry="4.2" stroke="#444" stroke-width="0.7" fill="#efefef" />
<polygon points="502.5,200.5 514.5,205.0 506.0,208.6" stroke="#444" stroke-width="0.6" fill="#fff" />
<path d="M504,214 Q508,212 514,211 L521,209" stroke="#555" stroke-width="0.6" fill="none" />
<ellipse cx="562.3" cy="182.3" rx="8.9" ry="11.6" stroke="#333" stroke-width="0.9" fill="none" transform="rotate(-15 562.3 182.3)" />
<ellipse cx="562.3" cy="182.3" rx="7.6" ry="10.3" stroke="#666" stroke-width="0.6" fill="none" transform="rotate(-15 562.3 182.3)" />
<path d="M581.71,185.14 L594.26,178.83 A8.90,12.20 -16 0 0 587.54,155.37 L575.09,162.06 A8.60,12.00 -16 0 0 581.71,185.14 Z" stroke="#333" stroke-width="0.8" fill="#fff" />
<ellipse cx="578.4" cy="173.6" rx="8.6" ry="12.0" stroke="#333" stroke-width="0.8" fill="#fff" transform="rotate(-16 578.4 173.6)" />
<ellipse cx="578.9" cy="173.4" rx="7.6" ry="10.8" stroke="#333" stroke-width="1.1" fill="none" transform="rotate(-16 578.9 173.4)" />
<ellipse cx="579.6" cy="173.1" rx="6.4" ry="9.6" stroke="#666" stroke-width="0.6" fill="#fff" transform="rotate(-16 579.6 173.1)" />
<ellipse cx="581.0" cy="172.6" rx="5.2" ry="8.4" stroke="#999" stroke-width="0.5" fill="none" transform="rotate(-16 581.0 172.6)" />
<path d="M609.90,172.50 L624.79,168.11 A8.80,15.20 -16 0 0 616.41,138.89 L601.30,142.50 A8.80,15.60 -16 0 0 609.90,172.50 Z" stroke="#333" stroke-width="0.8" fill="#fff" />
<line x1="606.1" y1="141.7" x2="618.1" y2="138.5" stroke="#333" stroke-width="0.8" />
<line x1="607.1" y1="142.2" x2="618.6" y2="139.1" stroke="#888" stroke-width="0.5" />
<line x1="608.2" y1="142.4" x2="620.2" y2="139.2" stroke="#333" stroke-width="0.8" />
<line x1="609.2" y1="142.9" x2="620.7" y2="139.8" stroke="#888" stroke-width="0.5" />
<line x1="610.2" y1="143.8" x2="622.2" y2="140.6" stroke="#333" stroke-width="0.8" />
<line x1="611.2" y1="144.3" x2="622.7" y2="141.2" stroke="#888" stroke-width="0.5" />
<line x1="612.2" y1="145.7" x2="624.2" y2="142.5" stroke="#333" stroke-width="0.8" />
<line x1="613.2" y1="146.2" x2="624.7" y2="143.1" stroke="#888" stroke-width="0.5" />
<line x1="613.9" y1="148.3" x2="625.9" y2="145.1" stroke="#333" stroke-width="0.8" />
<line x1="614.9" y1="148.8" x2="626.4" y2="145.7" stroke="#888" stroke-width="0.5" />
<line x1="615.4" y1="151.2" x2="627.4" y2="148.0" stroke="#333" stroke-width="0.8" />
<line x1="616.4" y1="151.7" x2="627.9" y2="148.6" stroke="#888" stroke-width="0.5" />
<line x1="616.6" y1="154.4" x2="628.6" y2="151.2" stroke="#333" stroke-width="0.8" />
<line x1="617.6" y1="154.9" x2="629.1" y2="151.8" stroke="#888" stroke-width="0.5" />
<line x1="617.3" y1="157.7" x2="629.3" y2="154.5" stroke="#333" stroke-width="0.8" />
<line x1="618.3" y1="158.2" x2="629.8" y2="155.1" stroke="#888" stroke-width="0.5" />
<line x1="617.6" y1="160.9" x2="629.6" y2="157.7" stroke="#333" stroke-width="0.8" />
<line x1="618.6" y1="161.4" x2="630.1" y2="158.3" stroke="#888" stroke-width="0.5" />
<line x1="617.4" y1="164.0" x2="629.4" y2="160.8" stroke="#333" stroke-width="0.8" />
<line x1="618.4" y1="164.5" x2="629.9" y2="161.4" stroke="#888" stroke-width="0.5" />
<line x1="616.8" y1="166.7" x2="628.8" y2="163.5" stroke="#333" stroke-width="0.8" />
<line x1="617.8" y1="167.2" x2="629.3" y2="164.1" stroke="#888" stroke-width="0.5" />
<line x1="615.8" y1="169.0" x2="627.8" y2="165.8" stroke="#333" stroke-width="0.8" />
<line x1="616.8" y1="169.5" x2="628.3" y2="166.4" stroke="#888" stroke-width="0.5" />
<line x1="614.4" y1="170.7" x2="626.4" y2="167.5" stroke="#333" stroke-width="0.8" />
<line x1="615.4" y1="171.2" x2="626.9" y2="168.1" stroke="#888" stroke-width="0.5" />
<ellipse cx="605.6" cy="157.5" rx="8.8" ry="15.6" stroke="#333" stroke-width="0.9" fill="#cfcfcf" transform="rotate(-16 605.6 157.5)" />
<ellipse cx="606.2" cy="157.4" rx="7.8" ry="14.4" stroke="#555" stroke-width="0.6" fill="none" transform="rotate(-16 606.2 157.4)" />
<ellipse cx="606.6" cy="157.5" rx="7.2" ry="13.8" stroke="#666" stroke-width="0.45" fill="none" transform="rotate(-16 606.6 157.5)" />
<ellipse cx="607.3" cy="157.5" rx="6.9" ry="13.3" stroke="#666" stroke-width="0.45" fill="none" transform="rotate(-16 607.3 157.5)" />
<ellipse cx="608.0" cy="157.5" rx="6.6" ry="12.8" stroke="#666" stroke-width="0.45" fill="none" transform="rotate(-16 608.0 157.5)" />
<ellipse cx="608.7" cy="157.5" rx="6.3" ry="12.3" stroke="#666" stroke-width="0.45" fill="none" transform="rotate(-16 608.7 157.5)" />
<ellipse cx="609.4" cy="157.5" rx="6.0" ry="11.8" stroke="#666" stroke-width="0.45" fill="none" transform="rotate(-16 609.4 157.5)" />
<ellipse cx="610.1" cy="157.5" rx="5.7" ry="11.3" stroke="#666" stroke-width="0.45" fill="none" transform="rotate(-16 610.1 157.5)" />
<ellipse cx="610.8" cy="157.5" rx="5.4" ry="10.8" stroke="#666" stroke-width="0.45" fill="none" transform="rotate(-16 610.8 157.5)" />
<ellipse cx="612.0" cy="157.8" rx="5.4" ry="10.8" stroke="#333" stroke-width="0.8" fill="#fff" transform="rotate(-16 612.0 157.8)" />
<ellipse cx="612.6" cy="157.8" rx="4.2" ry="9.4" stroke="#999" stroke-width="0.4" fill="none" transform="rotate(-16 612.6 157.8)" />
<ellipse cx="555.2" cy="234.8" rx="2.2" ry="2.6" stroke="#555" stroke-width="0.7" fill="#fff" transform="rotate(-20 555.2 234.8)" />
<ellipse cx="547.6" cy="238.9" rx="2.2" ry="2.6" stroke="#555" stroke-width="0.7" fill="#fff" transform="rotate(-20 547.6 238.9)" />
<ellipse cx="547.6" cy="238.9" rx="1.1" ry="1.4" stroke="#888" stroke-width="0.5" fill="none" transform="rotate(-20 547.6 238.9)" />
<ellipse cx="521.8" cy="272.0" rx="2.4" ry="1.6" stroke="#555" stroke-width="0.7" fill="#fff" />
<ellipse cx="448.8" cy="266.8" rx="9.5" ry="14.4" stroke="#333" stroke-width="0.9" fill="none" transform="rotate(-27.1 448.8 266.8)" />
<ellipse cx="448.8" cy="266.8" rx="8.6" ry="13.4" stroke="#666" stroke-width="0.5" fill="none" transform="rotate(-27.1 448.8 266.8)" />
<path d="M421.90,303.98 L434.70,294.96 A11.88,18.00 -27.1 0 0 418.30,262.92 L403.50,268.02 A13.33,20.20 -27.1 0 0 421.90,303.98 Z" stroke="#333" stroke-width="0.8" fill="#fff" />
<ellipse cx="412.7" cy="286.0" rx="13.3" ry="20.2" stroke="#333" stroke-width="0.8" fill="#fff" transform="rotate(-27.1 412.7 286.0)" />
<ellipse cx="412.9" cy="285.9" rx="12.3" ry="18.7" stroke="#444" stroke-width="0.6" fill="none" transform="rotate(-27.1 412.9 285.9)" />
<ellipse cx="413.2" cy="285.8" rx="11.0" ry="16.6" stroke="#555" stroke-width="0.6" fill="none" transform="rotate(-27.1 413.2 285.8)" />
<ellipse cx="412.3" cy="285.7" rx="5.2" ry="7.6" stroke="#444" stroke-width="0.7" fill="#fff" transform="rotate(-27.1 412.3 285.7)" />
<ellipse cx="412.6" cy="285.6" rx="3.8" ry="5.6" stroke="#444" stroke-width="0.7" fill="#f4f4f4" transform="rotate(-27.1 412.6 285.6)" />
<ellipse cx="413.3" cy="285.2" rx="2.7" ry="3.9" stroke="#777" stroke-width="0.5" fill="none" transform="rotate(-27.1 413.3 285.2)" />
<path d="M404.5,279 L409.2,270.5" stroke="#888" stroke-width="0.4" fill="none" />
<ellipse cx="388.9" cy="300.4" rx="10.7" ry="15.1" stroke="#333" stroke-width="0.9" fill="none" transform="rotate(-27.1 388.9 300.4)" />
<ellipse cx="388.9" cy="300.4" rx="9.9" ry="14.2" stroke="#777" stroke-width="0.5" fill="none" transform="rotate(-27.1 388.9 300.4)" />
<path d="M369.18,332.94 L372.03,331.48 A14.83,20.60 -27.1 0 0 353.26,294.80 L350.42,296.26 A14.83,20.60 -27.1 0 0 369.18,332.94 Z" stroke="#333" stroke-width="0.8" fill="#fff" />
<ellipse cx="359.8" cy="314.6" rx="14.8" ry="20.6" stroke="#333" stroke-width="0.8" fill="#fff" transform="rotate(-27.1 359.8 314.6)" />
<ellipse cx="359.6" cy="314.7" rx="13.7" ry="19.0" stroke="#444" stroke-width="0.7" fill="none" transform="rotate(-27.1 359.6 314.7)" />
<ellipse cx="359.4" cy="314.8" rx="11.8" ry="16.4" stroke="#555" stroke-width="0.6" fill="none" transform="rotate(-27.1 359.4 314.8)" />
<ellipse cx="359.2" cy="314.9" rx="10.8" ry="15.0" stroke="#888" stroke-width="0.5" fill="none" transform="rotate(-27.1 359.2 314.9)" />
<ellipse cx="360.2" cy="314.2" rx="5.6" ry="7.2" stroke="#444" stroke-width="0.8" fill="#fff" transform="rotate(-27.1 360.2 314.2)" />
<ellipse cx="360.4" cy="314.1" rx="4.4" ry="5.7" stroke="#666" stroke-width="0.5" fill="none" transform="rotate(-27.1 360.4 314.1)" />
<polygon points="308.0,329.0 308.1,327.4 308.2,325.8 308.4,324.3 308.8,322.9 309.2,321.5 309.7,320.2 310.4,319.1 311.1,318.0 311.9,317.1 312.7,316.2 313.7,315.5 314.7,315.0 320.3,312.4 321.3,312.0 322.4,311.7 323.6,311.5 324.7,311.6 325.9,311.7 327.1,312.0 328.3,312.4 329.5,313.0 330.7,313.7 331.9,314.6 333.0,315.5 334.1,316.6 335.1,317.8 336.0,319.1 336.9,320.4 337.8,321.9 338.5,323.4 339.2,325.0 339.8,326.6 340.2,328.2 340.6,329.9 340.9,331.5 341.1,333.2 341.2,334.8 341.1,336.4 341.0,338.0 340.8,339.5 340.4,340.9 340.0,342.3 339.5,343.6 338.8,344.7 338.1,345.8 337.3,346.7 336.5,347.6 335.5,348.3 334.5,348.8 328.9,351.4 327.9,351.8 326.8,352.1 325.6,352.3 324.5,352.2 323.3,352.1 322.1,351.8 320.9,351.4 319.7,350.8 318.5,350.1 317.3,349.2 316.2,348.3 315.1,347.2 314.1,346.0 313.2,344.7 312.3,343.4 311.4,341.9 310.7,340.4 310.0,338.8 309.4,337.2 309.0,335.6 308.6,333.9 308.3,332.3 308.1,330.6" stroke="#333" stroke-width="0.8" fill="#fff" />
<line x1="318.0" y1="314.1" x2="323.6" y2="311.5" stroke="#777" stroke-width="0.55" />
<line x1="321.3" y1="314.5" x2="326.9" y2="311.9" stroke="#777" stroke-width="0.55" />
<line x1="324.6" y1="316.0" x2="330.2" y2="313.4" stroke="#777" stroke-width="0.55" />
<line x1="327.8" y1="318.6" x2="333.4" y2="316.0" stroke="#777" stroke-width="0.55" />
<line x1="330.6" y1="321.9" x2="336.2" y2="319.3" stroke="#777" stroke-width="0.55" />
<line x1="332.9" y1="326.0" x2="338.5" y2="323.4" stroke="#777" stroke-width="0.55" />
<line x1="334.6" y1="330.5" x2="340.2" y2="327.9" stroke="#777" stroke-width="0.55" />
<line x1="335.4" y1="335.1" x2="341.0" y2="332.5" stroke="#777" stroke-width="0.55" />
<line x1="335.5" y1="339.7" x2="341.1" y2="337.1" stroke="#777" stroke-width="0.55" />
<line x1="334.7" y1="343.8" x2="340.3" y2="341.2" stroke="#777" stroke-width="0.55" />
<line x1="333.2" y1="347.3" x2="338.8" y2="344.7" stroke="#777" stroke-width="0.55" />
<line x1="331.0" y1="350.0" x2="336.6" y2="347.4" stroke="#777" stroke-width="0.55" />
<line x1="328.3" y1="351.7" x2="333.9" y2="349.1" stroke="#777" stroke-width="0.55" />
<rect x="324.4" y="311.2" width="3" height="3" fill="#eee" stroke="#444" stroke-width="0.55" transform="rotate(-20 325.9 312.7)"/>
<rect x="333.6" y="319.5" width="3" height="3" fill="#eee" stroke="#444" stroke-width="0.55" transform="rotate(-20 335.1 321.0)"/>
<rect x="338.0" y="334.5" width="3" height="3" fill="#eee" stroke="#444" stroke-width="0.55" transform="rotate(-20 339.5 336.0)"/>
<rect x="335.4" y="344.9" width="3" height="3" fill="#eee" stroke="#444" stroke-width="0.55" transform="rotate(-20 336.9 346.4)"/>
<rect x="315.0" y="343.7" width="3" height="3" fill="#eee" stroke="#444" stroke-width="0.55" transform="rotate(-20 316.5 345.2)"/>
<rect x="308.7" y="327.6" width="3" height="3" fill="#eee" stroke="#444" stroke-width="0.55" transform="rotate(-20 310.2 329.1)"/>
<rect x="310.5" y="316.7" width="3" height="3" fill="#eee" stroke="#444" stroke-width="0.55" transform="rotate(-20 312.0 318.2)"/>
<ellipse cx="321.8" cy="333.2" rx="13.0" ry="19.6" stroke="#333" stroke-width="1.0" fill="#fff" transform="rotate(-18 321.8 333.2)" />
<ellipse cx="322.2" cy="333.4" rx="11.7" ry="18.1" stroke="#666" stroke-width="0.6" fill="none" transform="rotate(-18 322.2 333.4)" />
<ellipse cx="322.4" cy="333.8" rx="10.2" ry="16.0" stroke="#333" stroke-width="0.9" fill="none" transform="rotate(-18 322.4 333.8)" />
<ellipse cx="333.1" cy="330.1" rx="0.9" ry="0.9" stroke="#444" stroke-width="0.5" fill="#777" />
<ellipse cx="333.7" cy="342.7" rx="0.9" ry="0.9" stroke="#444" stroke-width="0.5" fill="#777" />
<ellipse cx="327.6" cy="350.0" rx="0.9" ry="0.9" stroke="#444" stroke-width="0.5" fill="#777" />
<ellipse cx="318.4" cy="347.7" rx="0.9" ry="0.9" stroke="#444" stroke-width="0.5" fill="#777" />
<ellipse cx="311.5" cy="337.1" rx="0.9" ry="0.9" stroke="#444" stroke-width="0.5" fill="#777" />
<ellipse cx="310.9" cy="324.5" rx="0.9" ry="0.9" stroke="#444" stroke-width="0.5" fill="#777" />
<ellipse cx="317.0" cy="317.2" rx="0.9" ry="0.9" stroke="#444" stroke-width="0.5" fill="#777" />
<ellipse cx="326.2" cy="319.5" rx="0.9" ry="0.9" stroke="#444" stroke-width="0.5" fill="#777" />
<line x1="358.6" y1="350.4" x2="361.2" y2="345.2" stroke="#444" stroke-width="1.3" />
<line x1="360.2" y1="345.6" x2="362.2" y2="346.4" stroke="#444" stroke-width="1.0" />
<ellipse cx="302.8" cy="342.9" rx="3.1" ry="3.9" stroke="#333" stroke-width="0.8" fill="#9a9a9a" transform="rotate(-27.1 302.8 342.9)" />
<ellipse cx="303.4" cy="342.6" rx="2.1" ry="2.6" stroke="#444" stroke-width="0.6" fill="#ddd" transform="rotate(-27.1 303.4 342.6)" />
<ellipse cx="290.8" cy="348.6" rx="1.8" ry="3.0" stroke="#555" stroke-width="0.7" fill="#fff" transform="rotate(-27.1 290.8 348.6)" />
<path d="M276.30,371.33 L280.04,369.42 A10.72,13.40 -27.1 0 0 267.83,345.56 L264.10,347.47 A10.72,13.40 -27.1 0 0 276.30,371.33 Z" stroke="#333" stroke-width="0.8" fill="#fff" />
<ellipse cx="271.4" cy="358.8" rx="10.7" ry="13.4" stroke="#444" stroke-width="0.6" fill="none" transform="rotate(-27.1 271.4 358.8)" />
<ellipse cx="272.7" cy="358.1" rx="10.7" ry="13.4" stroke="#444" stroke-width="0.6" fill="none" transform="rotate(-27.1 272.7 358.1)" />
<ellipse cx="270.2" cy="359.4" rx="10.7" ry="13.4" stroke="#222" stroke-width="1.5" fill="#fff" transform="rotate(-27.1 270.2 359.4)" />
<ellipse cx="270.1" cy="359.5" rx="9.3" ry="11.6" stroke="#333" stroke-width="0.7" fill="none" transform="rotate(-27.1 270.1 359.5)" />
<ellipse cx="270.0" cy="359.5" rx="8.3" ry="10.4" stroke="#777" stroke-width="0.5" fill="none" transform="rotate(-27.1 270.0 359.5)" />
<ellipse cx="269.4" cy="359.9" rx="5.3" ry="6.2" stroke="#444" stroke-width="0.7" fill="#f2f2f2" transform="rotate(-27.1 269.4 359.9)" />
<ellipse cx="269.4" cy="359.9" rx="3.9" ry="4.6" stroke="#666" stroke-width="0.5" fill="none" transform="rotate(-27.1 269.4 359.9)" />
<path d="M265.9,361.4 L272.4,357.4 M267.4,356.4 L270.9,363.9 M265.8,358.9 L272.6,361.9" stroke="#333" stroke-width="0.9" fill="none" />
<ellipse cx="269.4" cy="359.9" rx="1.6" ry="1.6" stroke="#333" stroke-width="0.7" fill="#bbb" />
<ellipse cx="226.2" cy="382.3" rx="3.0" ry="3.8" stroke="#333" stroke-width="0.9" fill="#fff" transform="rotate(-20 226.2 382.3)" />
<ellipse cx="226.3" cy="382.3" rx="1.6" ry="2.3" stroke="#666" stroke-width="0.6" fill="none" transform="rotate(-20 226.3 382.3)" />
<ellipse cx="238.2" cy="376.0" rx="3.0" ry="3.6" stroke="#555" stroke-width="0.8" fill="#cfcfcf" transform="rotate(-20 238.2 376.0)" />
<ellipse cx="238.4" cy="376.0" rx="1.6" ry="2.1" stroke="#777" stroke-width="0.5" fill="none" transform="rotate(-20 238.4 376.0)" />
<ellipse cx="251.6" cy="369.3" rx="3.8" ry="4.2" stroke="#333" stroke-width="0.9" fill="#a8a8a8" transform="rotate(-20 251.6 369.3)" />
<ellipse cx="252.2" cy="369.0" rx="2.3" ry="2.7" stroke="#444" stroke-width="0.6" fill="#ddd" transform="rotate(-20 252.2 369.0)" />
<path d="M190.2,369.6 C194,367.4 200.5,367.4 204.5,370.2 C211.5,376.5 217.2,392 220.6,409.5 C222.2,418 219.4,424.2 213,425.2 C205,426.4 196,423 190,416.2 C184.2,409.4 182,401.5 182.5,394 C183,384.5 186,374.5 190.2,369.6 Z" stroke="#444" stroke-width="1.1" fill="none" />
<path d="M190.2,369.6 C194,367.4 200.5,367.4 204.5,370.2 C211.5,376.5 217.2,392 220.6,409.5 C222.2,418 219.4,424.2 213,425.2 C205,426.4 196,423 190,416.2 C184.2,409.4 182,401.5 182.5,394 C183,384.5 186,374.5 190.2,369.6 Z" stroke="#999" stroke-width="0.4" fill="none" transform="translate(0.4,0.3)"/>
<polygon points="136.6,409.8 136.7,407.9 136.8,406.1 137.0,404.3 137.3,402.6 137.6,400.9 138.0,399.3 138.5,397.8 139.0,396.3 139.6,395.0 140.3,393.8 141.0,392.6 141.7,391.6 142.6,390.7 143.4,389.9 144.3,389.2 145.3,388.7 146.3,388.3 147.3,388.0 154.5,386.3 155.6,386.2 156.6,386.2 157.7,386.3 158.8,386.5 159.9,386.9 161.1,387.4 162.2,388.0 163.4,388.7 164.5,389.6 165.7,390.5 166.8,391.5 167.9,392.7 169.0,393.9 170.1,395.3 171.1,396.7 172.1,398.2 173.1,399.7 174.0,401.3 174.8,403.0 175.6,404.7 176.3,406.5 176.9,408.2 177.5,410.0 178.0,411.8 178.4,413.7 178.7,415.5 178.9,417.3 179.0,419.0 179.0,420.8 178.9,422.5 178.7,424.2 178.5,425.8 178.1,427.3 177.6,428.8 177.1,430.2 176.4,431.5 175.7,432.7 174.9,433.9 174.0,434.9 173.0,435.8 172.0,436.6 170.9,437.3 169.8,437.9 163.0,441.2 161.8,441.7 160.6,442.0 159.3,442.2 158.0,442.3 156.6,442.2 155.3,442.0 153.9,441.7 152.6,441.2 151.3,440.6 150.0,439.9 148.8,439.1 147.5,438.1 146.4,437.0 145.2,435.8 144.2,434.6 143.1,433.2 142.2,431.7 141.3,430.1 140.5,428.5 139.8,426.7 139.1,425.0 138.5,423.2 138.0,421.3 137.6,419.4 137.2,417.5 137.0,415.6 136.8,413.6 136.7,411.7" stroke="#333" stroke-width="0.8" fill="#fff" />
<polygon points="170.4,410.6 171.0,412.5 171.5,414.3 171.9,416.2 172.2,418.1 172.4,419.9 172.5,421.7 172.6,423.5 172.5,425.3 172.3,427.0 172.0,428.7 171.6,430.3 171.2,431.8 170.6,433.2 169.9,434.6 169.2,435.9 168.3,437.0 167.4,438.1 166.4,439.0 165.3,439.9 164.2,440.6 163.0,441.2 161.8,441.7 160.6,442.0 159.3,442.2 158.0,442.3 156.6,442.2 155.3,442.0 153.9,441.7 152.6,441.2 151.3,440.6 150.0,439.9 148.8,439.1 147.5,438.1 146.4,437.0 145.2,435.8 144.2,434.6 143.1,433.2 142.2,431.7 141.3,430.1 140.5,428.5 139.8,426.7 139.1,425.0 138.5,423.2 138.0,421.3 137.6,419.4 137.2,417.5 137.0,415.6 136.8,413.6 136.7,411.7 136.6,409.8 136.7,407.9 136.8,406.1 137.0,404.3 137.3,402.6 137.6,400.9 138.0,399.3 138.5,397.8 139.0,396.3 139.6,395.0 140.3,393.8 141.0,392.6 141.7,391.6 142.6,390.7 143.4,389.9 144.3,389.2 145.3,388.7 146.3,388.3 147.3,388.0 148.4,387.9 149.5,387.9 150.6,388.0 151.7,388.2 152.9,388.6 154.1,389.1 155.3,389.7 156.5,390.5 157.6,391.3 158.8,392.3 160.0,393.4 161.1,394.6 162.3,395.9 163.4,397.2 164.4,398.7 165.5,400.2 166.4,401.8 167.4,403.5 168.2,405.2 169.0,407.0 169.8,408.8" stroke="#333" stroke-width="0.9" fill="#fff" />
<path d="M167.1,411.5 L169.4,410.9 M164.1,413.2 L166.8,412.7 M167.8,413.6 L170.2,413.3 M164.5,414.7 L167.3,414.7 M168.3,415.7 L170.8,415.8 M164.8,416.3 L167.7,416.7 M168.6,417.8 L171.2,418.3 M165.0,417.9 L168.0,418.6 M168.8,419.8 L171.4,420.7 M165.1,419.4 L168.1,420.6 M168.8,421.9 L171.4,423.1 M165.1,420.9 L168.1,422.5 M168.7,423.8 L171.3,425.4 M165.0,422.4 L167.9,424.3 M168.5,425.7 L171.0,427.6 M164.7,423.7 L167.5,426.1 M168.0,427.5 L170.5,429.7 M164.3,425.0 L167.0,427.7 M167.4,429.2 L169.8,431.7 M163.8,426.3 L166.4,429.3 M166.7,430.7 L168.9,433.5 M163.2,427.4 L165.6,430.7 M165.8,432.1 L167.9,435.1 M162.5,428.3 L164.8,431.9 M164.8,433.4 L166.7,436.6 M161.7,429.2 L163.7,433.0 M163.7,434.4 L165.4,437.8 M160.8,429.9 L162.6,433.9 M162.5,435.3 L163.9,438.9 M159.8,430.5 L161.4,434.7 M161.1,436.0 L162.4,439.7 M158.8,431.0 L160.1,435.2 M159.8,436.5 L160.8,440.2 M157.8,431.2 L158.8,435.6 M158.3,436.8 L159.1,440.6 M156.7,431.4 L157.4,435.7 M156.8,436.8 L157.3,440.6 M155.6,431.3 L156.0,435.7 M155.3,436.7 L155.6,440.5 M154.4,431.1 L154.5,435.4 M153.8,436.3 L153.8,440.0 M153.3,430.8 L153.1,435.0 M152.3,435.8 L152.0,439.4 M152.2,430.3 L151.7,434.4 M150.9,435.0 L150.3,438.5 M151.1,429.6 L150.3,433.5 M149.5,434.0 L148.7,437.3 M150.1,428.8 L149.0,432.5 M148.1,432.9 L147.1,436.0 M149.1,427.9 L147.8,431.3 M146.9,431.5 L145.6,434.4 M148.2,426.8 L146.6,430.0 M145.7,430.0 L144.2,432.7 M147.3,425.7 L145.5,428.5 M144.6,428.4 L142.9,430.7 M146.6,424.4 L144.6,426.9 M143.6,426.6 L141.8,428.6 M145.9,423.0 L143.7,425.1 M142.7,424.7 L140.8,426.4 M145.3,421.5 L142.9,423.3 M142.0,422.7 L139.9,424.1 M144.7,420.0 L142.3,421.3 M141.4,420.6 L139.2,421.6 M144.3,418.4 L141.7,419.3 M140.9,418.5 L138.6,419.1 M144.0,416.8 L141.3,417.3 M140.5,416.4 L138.1,416.6 M143.8,415.2 L141.0,415.2 M140.2,414.2 L137.8,414.1 M143.6,413.6 L140.9,413.2 M140.1,412.0 L137.7,411.5 M143.6,412.0 L140.8,411.1 M140.1,409.9 L137.7,409.0 M143.6,410.4 L140.9,409.1 M140.2,407.8 L137.8,406.6 M143.8,408.9 L141.0,407.2 M140.5,405.8 L138.1,404.2 M144.0,407.4 L141.3,405.4 M140.8,403.9 L138.5,402.0 M144.3,406.0 L141.7,403.6 M141.3,402.1 L139.1,399.9 M144.7,404.7 L142.2,401.9 M141.9,400.5 L139.7,397.9 M145.1,403.5 L142.8,400.4 M142.5,398.9 L140.5,396.1 M145.7,402.4 L143.5,399.1 M143.3,397.6 L141.4,394.5 M146.3,401.5 L144.2,397.8 M144.1,396.4 L142.4,393.1 M146.9,400.6 L145.1,396.8 M145.0,395.4 L143.5,391.9 M147.7,399.9 L146.0,395.9 M146.0,394.5 L144.7,391.0 M148.4,399.4 L147.0,395.2 M147.1,393.9 L145.9,390.2 M149.3,399.0 L148.0,394.8 M148.2,393.5 L147.2,389.8 M150.1,398.8 L149.1,394.5 M149.4,393.3 L148.6,389.5 M151.0,398.7 L150.3,394.4 M150.7,393.3 L150.1,389.5 M152.0,398.8 L151.4,394.5 M151.9,393.5 L151.6,389.8 M153.0,399.0 L152.7,394.8 M153.2,393.9 L153.1,390.2 M153.9,399.4 L153.9,395.3 M154.6,394.5 L154.7,391.0 M154.9,399.9 L155.2,395.9 M155.9,395.3 L156.2,391.9 M155.9,400.6 L156.5,396.8 M157.2,396.3 L157.8,393.1 M156.9,401.4 L157.7,397.8 M158.6,397.5 L159.4,394.4 M157.9,402.4 L159.0,399.0 M159.9,398.8 L160.9,396.0 M158.9,403.4 L160.2,400.3 M161.1,400.3 L162.4,397.7 M159.8,404.6 L161.4,401.8 M162.3,401.9 L163.8,399.6 M160.7,405.8 L162.5,403.4 M163.5,403.7 L165.1,401.7 M161.5,407.2 L163.5,405.1 M164.5,405.5 L166.4,403.8 M162.3,408.6 L164.5,406.9 M165.5,407.4 L167.5,406.1 M163.0,410.1 L165.4,408.8 M166.4,409.4 L168.5,408.5 M163.6,411.6 L166.1,410.7" stroke="#2a2a2a" stroke-width="0.85" fill="none"/>
<polygon points="163.5,412.4 163.9,413.8 164.3,415.1 164.5,416.5 164.7,417.8 164.8,419.2 164.7,420.5 164.6,421.7 164.4,422.9 164.2,424.1 163.8,425.2 163.3,426.2 162.8,427.1 162.2,427.9 161.5,428.7 160.7,429.3 159.9,429.9 159.1,430.3 158.2,430.6 157.2,430.8 156.3,430.8 155.3,430.8 154.4,430.6 153.4,430.3 152.4,429.9 151.5,429.3 150.6,428.7 149.7,427.9 148.9,427.1 148.1,426.1 147.4,425.1 146.8,424.0 146.2,422.8 145.6,421.6 145.2,420.3 144.8,418.9 144.5,417.6 144.2,416.2 144.1,414.8 144.0,413.4 143.9,412.0 144.0,410.6 144.1,409.3 144.3,408.0 144.5,406.8 144.8,405.7 145.2,404.6 145.6,403.6 146.0,402.7 146.6,401.9 147.1,401.2 147.7,400.6 148.4,400.1 149.1,399.7 149.8,399.4 150.6,399.3 151.4,399.3 152.2,399.4 153.0,399.6 153.9,399.9 154.7,400.3 155.6,400.9 156.5,401.6 157.3,402.3 158.1,403.2 159.0,404.1 159.7,405.1 160.5,406.2 161.2,407.4 161.9,408.6 162.5,409.8 163.0,411.1" stroke="#444" stroke-width="0.55" fill="none" />
<polygon points="166.8,411.6 167.4,413.4 167.8,415.2 168.1,417.0 168.4,418.8 168.5,420.6 168.5,422.4 168.3,424.0 168.0,425.7 167.7,427.2 167.2,428.7 166.5,430.0 165.8,431.3 165.0,432.4 164.1,433.4 163.1,434.3 162.0,435.0 160.8,435.5 159.6,435.9 158.4,436.2 157.1,436.3 155.8,436.2 154.5,436.0 153.2,435.6 151.9,435.0 150.6,434.3 149.4,433.4 148.3,432.4 147.2,431.3 146.1,430.0 145.2,428.6 144.3,427.1 143.5,425.5 142.8,423.8 142.1,422.1 141.6,420.3 141.2,418.4 140.9,416.6 140.6,414.7 140.5,412.8 140.5,411.0 140.5,409.1 140.7,407.4 140.9,405.6 141.2,404.0 141.6,402.4 142.1,401.0 142.7,399.6 143.3,398.4 144.0,397.3 144.8,396.4 145.6,395.6 146.5,394.9 147.4,394.4 148.4,394.1 149.4,393.9 150.5,393.8 151.6,394.0 152.7,394.3 153.8,394.7 155.0,395.3 156.1,396.0 157.3,396.9 158.4,397.9 159.6,399.1 160.7,400.3 161.7,401.7 162.7,403.2 163.7,404.7 164.6,406.3 165.4,408.0 166.2,409.8" stroke="#444" stroke-width="0.55" fill="none" />
<polygon points="169.8,410.8 170.4,413.0 171.0,415.2 171.4,417.5 171.7,419.7 171.8,421.9 171.8,424.0 171.6,426.1 171.3,428.1 170.8,430.0 170.2,431.8 169.4,433.5 168.5,435.0 167.5,436.4 166.4,437.6 165.1,438.7 163.8,439.6 162.4,440.3 160.9,440.8 159.4,441.1 157.8,441.2 156.2,441.1 154.6,440.8 153.0,440.3 151.4,439.6 149.9,438.7 148.4,437.7 146.9,436.4 145.6,435.0 144.3,433.4 143.1,431.7 142.0,429.9 141.0,427.9 140.2,425.9 139.4,423.7 138.8,421.5 138.2,419.2 137.8,416.9 137.5,414.6 137.4,412.3 137.3,410.0 137.4,407.8 137.6,405.6 137.9,403.5 138.3,401.5 138.8,399.5 139.4,397.8 140.0,396.1 140.8,394.6 141.7,393.3 142.6,392.1 143.6,391.1 144.7,390.3 145.9,389.7 147.1,389.2 148.4,389.0 149.7,389.0 151.0,389.1 152.4,389.5 153.8,390.0 155.2,390.7 156.6,391.7 158.1,392.7 159.5,394.0 160.9,395.4 162.2,397.0 163.5,398.6 164.8,400.4 165.9,402.3 167.0,404.4 168.1,406.4 169.0,408.6" stroke="#444" stroke-width="0.55" fill="none" />
<path d="M156.0,414.5 Q161.0,414.8 164.1,421.2 M156.2,415.7 Q161.4,419.0 162.7,425.9 M156.1,416.9 Q160.5,422.5 159.7,429.0 M155.6,417.8 Q158.5,425.0 155.8,430.0 M154.9,418.2 Q155.8,425.9 151.7,428.7 M154.0,418.2 Q152.8,425.2 148.2,425.2 M153.1,417.7 Q150.1,422.9 145.7,420.1 M152.4,416.7 Q148.2,419.3 144.5,414.3 M152.0,415.5 Q147.2,415.1 144.7,408.5 M151.9,414.2 Q147.2,410.9 146.2,403.8 M152.1,413.1 Q148.1,407.3 148.6,400.9 M152.5,412.2 Q149.8,405.0 151.8,400.1 M153.1,411.8 Q152.0,404.1 155.4,401.6 M153.9,411.8 Q154.6,405.0 159.0,405.0 M154.7,412.4 Q157.3,407.3 162.0,409.9 M155.4,413.3 Q159.5,410.8 163.8,415.6" stroke="#444" stroke-width="0.65" fill="none"/>
<polygon points="157.3,414.1 157.5,415.1 157.7,416.0 157.7,416.9 157.6,417.7 157.4,418.5 157.0,419.2 156.6,419.7 156.0,420.1 155.4,420.4 154.8,420.5 154.1,420.4 153.5,420.1 152.8,419.7 152.2,419.2 151.7,418.5 151.3,417.7 151.0,416.8 150.7,415.9 150.6,414.9 150.5,414.0 150.6,413.0 150.7,412.2 150.9,411.4 151.3,410.8 151.6,410.2 152.1,409.8 152.6,409.6 153.1,409.6 153.7,409.7 154.3,409.9 154.8,410.4 155.4,410.9 156.0,411.6 156.5,412.4 156.9,413.2" stroke="#444" stroke-width="0.6" fill="#fff" />
<line x1="151.0" y1="420.0" x2="166.0" y2="412.5" stroke="#222" stroke-width="0.9" />
<path d="M100,405 L116,407.5 Q121.5,409 124.5,413 Q131.8,428 131.6,443 Q131.2,456 129.5,463.5 L122.5,476.5 L112,473 L105,410 Z" stroke="#444" stroke-width="0.75" fill="#fff" />
<path d="M92.3,408.6 Q95,405.4 99.5,405 L115.2,407.9 Q119.6,409.6 121.2,413.8 Q126.8,428 126.6,442 Q126.3,455 124.6,462.5 L118.5,475 L93.5,464.5 Q86.2,452 84.6,437.5 Q84.3,423.5 87.3,415.5 Q89.2,411 92.3,408.6 Z" stroke="#3a3a3a" stroke-width="0.8" fill="#fff" />
<path d="M115.2,407.9 L123.4,410.6" stroke="#555" stroke-width="0.6" fill="none" />
<path d="M121,413.6 L128.7,418 M126.5,440 L131.5,442 M124.8,462.3 L129.8,463.5" stroke="#777" stroke-width="0.5" fill="none" />
<path d="M93.5,409.5 L110.5,417.2 L113,414.2 L96,406.8 Z" stroke="#333" stroke-width="0.6" fill="#8a8a8a" />
<line x1="95.5" y1="408.6" x2="97.7" y2="406.6" stroke="#eee" stroke-width="0.45" />
<line x1="97.8" y1="409.7" x2="100.0" y2="407.7" stroke="#eee" stroke-width="0.45" />
<line x1="100.1" y1="410.7" x2="102.3" y2="408.7" stroke="#eee" stroke-width="0.45" />
<line x1="102.4" y1="411.8" x2="104.6" y2="409.8" stroke="#eee" stroke-width="0.45" />
<line x1="104.7" y1="412.8" x2="106.9" y2="410.8" stroke="#eee" stroke-width="0.45" />
<line x1="107.0" y1="413.9" x2="109.2" y2="411.9" stroke="#eee" stroke-width="0.45" />
<line x1="109.3" y1="414.9" x2="111.5" y2="412.9" stroke="#eee" stroke-width="0.45" />
<path d="M110.5,417.2 L113.5,419.5 L119,418" stroke="#555" stroke-width="0.5" fill="none" />
<ellipse cx="104.6" cy="445.0" rx="15.8" ry="21.4" stroke="#3a3a3a" stroke-width="0.8" fill="#fff" transform="rotate(-10 104.6 445.0)" />
<ellipse cx="104.8" cy="445.0" rx="14.6" ry="20.2" stroke="#666" stroke-width="1.0" fill="none" transform="rotate(-10 104.8 445.0)" stroke-dasharray="0.7,0.8"/>
<ellipse cx="105.1" cy="444.9" rx="13.3" ry="18.9" stroke="#555" stroke-width="0.6" fill="none" transform="rotate(-10 105.1 444.9)" />
<ellipse cx="107.2" cy="442.6" rx="9.3" ry="12.4" stroke="#444" stroke-width="0.7" fill="#fff" transform="rotate(-10 107.2 442.6)" />
<ellipse cx="105.8" cy="443.2" rx="7.6" ry="10.8" stroke="#666" stroke-width="0.5" fill="none" transform="rotate(-10 105.8 443.2)" />
<path d="M99.6,433.8 L102,436.5 M112.8,449.5 L114.8,452.8 M98.2,447.5 L101.8,446.8 M113.6,433.5 L116,435.5 M105,430 L107,432.5" stroke="#444" stroke-width="0.7" fill="none" />
<ellipse cx="88.6" cy="421.0" rx="0.9" ry="1.1" stroke="#555" stroke-width="0.5" fill="#fff" />
<ellipse cx="86.8" cy="432.0" rx="0.9" ry="1.1" stroke="#555" stroke-width="0.5" fill="#fff" />
<ellipse cx="86.6" cy="444.0" rx="0.9" ry="1.1" stroke="#555" stroke-width="0.5" fill="#fff" />
<ellipse cx="88.4" cy="455.0" rx="0.9" ry="1.1" stroke="#555" stroke-width="0.5" fill="#fff" />
<ellipse cx="93.8" cy="466.0" rx="0.9" ry="1.1" stroke="#555" stroke-width="0.5" fill="#fff" />
<ellipse cx="119.8" cy="426.0" rx="0.9" ry="1.1" stroke="#555" stroke-width="0.5" fill="#fff" />
<ellipse cx="123.3" cy="450.0" rx="0.9" ry="1.1" stroke="#555" stroke-width="0.5" fill="#fff" />
<ellipse cx="116.5" cy="470.0" rx="0.9" ry="1.1" stroke="#555" stroke-width="0.5" fill="#fff" />
<path d="M93,463.5 L95,467 L99,466 M103,468 L106,471 L110,470 M112,471 L115,474" stroke="#444" stroke-width="0.7" fill="none" />
<path d="M94.5,462 L117,471.5" stroke="#888" stroke-width="0.5" fill="none" />
<ellipse cx="78.8" cy="421.8" rx="1.6" ry="1.8" stroke="#444" stroke-width="0.6" fill="#fff" />
<line x1="65.0" y1="429.5" x2="73.8" y2="425.4" stroke="#444" stroke-width="1.5" />
<line x1="65.0" y1="429.5" x2="73.8" y2="425.4" stroke="#bbb" stroke-width="0.4" />
<ellipse cx="80.4" cy="457.8" rx="2.8" ry="3.4" stroke="#333" stroke-width="0.8" fill="#fff" transform="rotate(-20 80.4 457.8)" />
<ellipse cx="80.6" cy="457.7" rx="1.3" ry="1.7" stroke="#555" stroke-width="0.6" fill="#fff" transform="rotate(-20 80.6 457.7)" />
<line x1="153.7" y1="450.2" x2="160.5" y2="446.9" stroke="#444" stroke-width="1.6" />
<line x1="153.7" y1="450.2" x2="160.5" y2="446.9" stroke="#aaa" stroke-width="0.5" />
<ellipse cx="143.6" cy="455.2" rx="1.2" ry="1.5" stroke="#555" stroke-width="0.6" fill="#fff" />
<line x1="139.5" y1="470.8" x2="142.5" y2="468.6" stroke="#444" stroke-width="1.0" />
<line x1="64.0" y1="467.5" x2="74.2" y2="462.4" stroke="#333" stroke-width="2.2" />
<line x1="64.0" y1="467.5" x2="74.2" y2="462.4" stroke="#999" stroke-width="0.6" />
<path d="M65.15,486.60 L70.05,484.09 A6.13,14.60 -27.1 0 0 56.75,458.10 L51.85,460.60 A6.13,14.60 -27.1 0 0 65.15,486.60 Z" stroke="#333" stroke-width="0.8" fill="#fff" />
<ellipse cx="58.5" cy="473.6" rx="6.1" ry="14.6" stroke="#333" stroke-width="0.8" fill="#fff" transform="rotate(-27.1 58.5 473.6)" />
<ellipse cx="59.3" cy="473.2" rx="5.3" ry="12.6" stroke="#666" stroke-width="0.5" fill="none" transform="rotate(-27.1 59.3 473.2)" />
<path d="M35.20,504.52 L63.44,487.27 A8.06,15.50 -27.1 0 0 49.32,459.67 L18.80,472.48 A9.36,18.00 -27.1 0 0 35.20,504.52 Z" stroke="#333" stroke-width="0.8" fill="#fff" />
<clipPath id="mb"><polygon points="25,471 58,457 66,470 63,487 42,502 28,506"/></clipPath>
<g clip-path="url(#mb)"><path d="M22,476.0 L70,455.0 M22,477.9 L70,456.9 M22,479.8 L70,458.8 M22,481.7 L70,460.7 M22,483.6 L70,462.6 M22,485.5 L70,464.5 M22,487.4 L70,466.4 M22,489.3 L70,468.3 M22,491.2 L70,470.2 M22,493.1 L70,472.1 M22,495.0 L70,474.0 M22,496.9 L70,475.9 M22,498.8 L70,477.8 M22,500.7 L70,479.7 M22,502.6 L70,481.6 M22,504.5 L70,483.5 M22,506.4 L70,485.4 M22,508.3 L70,487.3 M22,510.2 L70,489.2 M22,512.1 L70,491.1" stroke="#3a3a3a" stroke-width="0.65" fill="none"/></g>
<polygon points="28.5,451.9 28.5,462.9 41.9,466.3 41.9,456.9" stroke="#333" stroke-width="0.8" fill="#fff" />
<polygon points="41.9,456.9 41.9,466.3 55.6,460.6 55.4,451.3" stroke="#333" stroke-width="0.8" fill="#fff" />
<polygon points="28.5,451.9 40.4,446.2 55.4,451.3 41.9,456.9" stroke="#333" stroke-width="0.8" fill="#fff" />
<polygon points="30.6,451.9 40.4,447.4 53.2,451.4 41.9,455.6" stroke="#777" stroke-width="0.5" fill="none" />
<line x1="41.9" y1="466.3" x2="42.5" y2="474.5" stroke="#444" stroke-width="0.7" />
<line x1="44.0" y1="465.5" x2="44.6" y2="474.0" stroke="#444" stroke-width="0.7" />
<path d="M23.98,507.58 L32.53,503.43 A9.67,18.60 -27.1 0 0 15.58,470.31 L7.22,474.82 A9.57,18.40 -27.1 0 0 23.98,507.58 Z" stroke="#333" stroke-width="0.9" fill="#fff" />
<ellipse cx="15.6" cy="491.2" rx="9.6" ry="18.4" stroke="#333" stroke-width="0.9" fill="#fff" transform="rotate(-27.1 15.6 491.2)" />
<ellipse cx="15.4" cy="491.4" rx="8.3" ry="14.8" stroke="#444" stroke-width="0.6" fill="url(#gr)" transform="rotate(-27.1 15.4 491.4)" />
<ellipse cx="14.7" cy="492.0" rx="1.5" ry="1.5" stroke="#555" stroke-width="0.5" fill="#fff" />
<defs><pattern id="gr" width="1.8" height="1.8" patternUnits="userSpaceOnUse"><rect width="1.8" height="1.8" fill="#fff"/><rect width="1.1" height="1.1" fill="#9a9a9a"/></pattern></defs>
<polygon points="76.3,482.9 78.3,481.6 80.9,483.3 78.9,484.6" stroke="#333" stroke-width="0.6" fill="#d8d8d8" />
<ellipse cx="78.6" cy="483.1" rx="0.7" ry="0.5" stroke="#444" stroke-width="0.4" fill="#fff" transform="rotate(25 78.6 483.1)" />
<polygon points="87.8,480.8 89.8,479.5 92.4,481.2 90.4,482.5" stroke="#333" stroke-width="0.6" fill="#d8d8d8" />
<ellipse cx="90.1" cy="481.0" rx="0.7" ry="0.5" stroke="#444" stroke-width="0.4" fill="#fff" transform="rotate(25 90.1 481.0)" />
<polygon points="88.4,486.0 90.4,484.7 93.0,486.4 91.0,487.7" stroke="#333" stroke-width="0.6" fill="#d8d8d8" />
<ellipse cx="90.7" cy="486.2" rx="0.7" ry="0.5" stroke="#444" stroke-width="0.4" fill="#fff" transform="rotate(25 90.7 486.2)" />
<polygon points="76.1,492.6 78.1,491.3 80.7,493.0 78.7,494.3" stroke="#333" stroke-width="0.6" fill="#d8d8d8" />
<ellipse cx="78.4" cy="492.8" rx="0.7" ry="0.5" stroke="#444" stroke-width="0.4" fill="#fff" transform="rotate(25 78.4 492.8)" />
<ellipse cx="101.4" cy="495.7" rx="1.8" ry="1.5" stroke="#444" stroke-width="0.6" fill="#bbb" />
<line x1="101.4" y1="488.0" x2="101.4" y2="494.0" stroke="#888" stroke-width="0.5" />
<line x1="78.5" y1="476.5" x2="78.5" y2="481.0" stroke="#999" stroke-width="0.5" />
<line x1="78.5" y1="485.0" x2="78.5" y2="491.0" stroke="#999" stroke-width="0.5" />
<line x1="90.5" y1="474.0" x2="90.5" y2="479.5" stroke="#999" stroke-width="0.5" />
<line x1="78.4" y1="494.5" x2="75.0" y2="503.0" stroke="#aaa" stroke-width="0.5" />
<line x1="90.7" y1="488.0" x2="86.0" y2="501.0" stroke="#aaa" stroke-width="0.5" />
<polygon points="68.8,505.8 68.8,514.2 84.5,522.2 87.3,520.8 87.3,518.0 95.7,513.8 98.9,515.8 104.1,513.2 104.1,509.4 107.3,507.6 106.5,504.2 102.1,501.0 97.7,502.0 94.1,500.2 88.5,499.6 83.7,501.6 79.7,503.4 77.3,505.8 74.1,504.7 71.3,504.2" stroke="#333" stroke-width="0.8" fill="#fff" />
<polyline points="68.8,512.0 84.5,519.7 84.5,522.2" stroke="#333" stroke-width="0.7" fill="none" />
<polyline points="71.7,505.5 74.9,507.1 74.9,513.2" stroke="#333" stroke-width="0.7" fill="none" />
<polyline points="77.3,505.8 90.9,512.4 104.1,506.6" stroke="#333" stroke-width="0.7" fill="none" />
<polyline points="79.7,503.4 93.3,510.0 106.5,504.2" stroke="#333" stroke-width="0.7" fill="none" />
<polyline points="84.5,519.7 87.3,518.0" stroke="#333" stroke-width="0.7" fill="none" />
<polyline points="95.7,513.8 95.7,510.2" stroke="#333" stroke-width="0.7" fill="none" />
<polyline points="88.5,512.2 88.5,515.8" stroke="#333" stroke-width="0.7" fill="none" />
<polyline points="81.3,509.0 81.3,513.8" stroke="#333" stroke-width="0.7" fill="none" />
<polygon points="83.7,501.6 88.5,499.6 92.1,501.3 87.3,503.4" stroke="#333" stroke-width="0.6" fill="#bdbdbd" />
<polygon points="97.7,502.0 102.1,501.0 105.7,503.6 101.3,505.4" stroke="#333" stroke-width="0.6" fill="#777" />
<polygon points="68.8,505.8 71.7,505.5 74.9,507.1 74.9,513.2 68.8,510.6" stroke="#444" stroke-width="0.6" fill="#e6e6e6" />
<ellipse cx="81.7" cy="508.8" rx="1.0" ry="0.8" stroke="#222" stroke-width="0.5" fill="#444" />
<ellipse cx="82.5" cy="512.4" rx="0.9" ry="0.7" stroke="#222" stroke-width="0.5" fill="#444" />
<ellipse cx="99.7" cy="511.0" rx="1.0" ry="0.8" stroke="#222" stroke-width="0.5" fill="#444" />
<ellipse cx="102.5" cy="507.8" rx="0.8" ry="0.6" stroke="#222" stroke-width="0.5" fill="#444" />
<ellipse cx="90.1" cy="507.0" rx="0.8" ry="0.6" stroke="#222" stroke-width="0.5" fill="#444" />
<ellipse cx="96.5" cy="506.2" rx="0.7" ry="0.6" stroke="#222" stroke-width="0.5" fill="#444" />
<polyline points="109.3,476.6 120.8,497.9 107.1,506.1" stroke="#aaa" stroke-width="0.5" fill="none" />
<polyline points="108.3,517.7 151.2,528.8 266.2,510.0" stroke="#aaa" stroke-width="0.6" fill="none" stroke-dasharray="2.5,2"/>
<circle cx="319.8" cy="499.8" r="54.3" fill="none" stroke="#b5b5b5" stroke-width="0.6" stroke-dasharray="2.2,1.8"/>
<line x1="324.2" y1="464.5" x2="314.2" y2="489.4" stroke="#666" stroke-width="0.6" />
<line x1="326.4" y1="464.5" x2="327.6" y2="487.8" stroke="#666" stroke-width="0.6" />
<line x1="313.5" y1="493.5" x2="313.5" y2="501.5" stroke="#888" stroke-width="0.5" />
<line x1="313.5" y1="505.0" x2="313.5" y2="510.8" stroke="#888" stroke-width="0.5" />
<polyline points="328.1,498.0 327.7,505.4 318.0,512.3" stroke="#888" stroke-width="0.5" fill="none" />
<line x1="340.4" y1="508.0" x2="340.4" y2="514.0" stroke="#888" stroke-width="0.5" />
<line x1="340.4" y1="504.3" x2="340.4" y2="500.0" stroke="#999" stroke-width="0.5" />
<line x1="327.7" y1="487.5" x2="327.7" y2="482.0" stroke="#999" stroke-width="0.5" />
<line x1="295.5" y1="499.2" x2="303.5" y2="499.2" stroke="#666" stroke-width="0.6" />
<polyline points="325.0,495.4 303.5,495.4 303.5,502.3 311.2,502.3" stroke="#666" stroke-width="0.6" fill="none" />
<polygon points="310.6,491.3 313.1,489.6 316.4,491.7 313.9,493.4" stroke="#333" stroke-width="0.6" fill="#d8d8d8" />
<ellipse cx="313.5" cy="491.5" rx="0.9" ry="0.6" stroke="#444" stroke-width="0.4" fill="#fff" transform="rotate(25 313.5 491.5)" />
<polygon points="324.8,489.4 327.3,487.7 330.6,489.8 328.1,491.5" stroke="#333" stroke-width="0.6" fill="#d8d8d8" />
<ellipse cx="327.7" cy="489.6" rx="0.9" ry="0.6" stroke="#444" stroke-width="0.4" fill="#fff" transform="rotate(25 327.7 489.6)" />
<polygon points="325.2,496.0 327.7,494.3 331.0,496.4 328.5,498.1" stroke="#333" stroke-width="0.6" fill="#d8d8d8" />
<ellipse cx="328.1" cy="496.2" rx="0.9" ry="0.6" stroke="#444" stroke-width="0.4" fill="#fff" transform="rotate(25 328.1 496.2)" />
<polygon points="310.6,502.9 313.1,501.2 316.4,503.3 313.9,505.0" stroke="#333" stroke-width="0.6" fill="#d8d8d8" />
<ellipse cx="313.5" cy="503.1" rx="0.9" ry="0.6" stroke="#444" stroke-width="0.4" fill="#fff" transform="rotate(25 313.5 503.1)" />
<ellipse cx="340.4" cy="506.2" rx="2.0" ry="1.7" stroke="#444" stroke-width="0.6" fill="#ccc" />
<ellipse cx="340.4" cy="506.2" rx="0.9" ry="0.7" stroke="#555" stroke-width="0.4" fill="#fff" />
<line x1="341.5" y1="504.4" x2="352.1" y2="489.3" stroke="#666" stroke-width="0.6" />
<polygon points="302.4,520.0 302.4,530.5 322.0,540.5 325.5,538.8 325.5,535.2 336.0,530.0 340.0,532.5 346.5,529.2 346.5,524.5 350.5,522.3 349.5,518.0 344.0,514.0 338.5,515.2 334.0,513.0 327.0,512.3 321.0,514.8 316.0,517.0 313.0,520.0 309.0,518.6 305.5,518.0" stroke="#333" stroke-width="0.8" fill="#fff" />
<polyline points="302.4,527.8 322.0,537.4 322.0,540.5" stroke="#333" stroke-width="0.7" fill="none" />
<polyline points="306.0,519.6 310.0,521.6 310.0,529.2" stroke="#333" stroke-width="0.7" fill="none" />
<polyline points="313.0,520.0 330.0,528.3 346.5,521.0" stroke="#333" stroke-width="0.7" fill="none" />
<polyline points="316.0,517.0 333.0,525.3 349.5,518.0" stroke="#333" stroke-width="0.7" fill="none" />
<polyline points="322.0,537.4 325.5,535.2" stroke="#333" stroke-width="0.7" fill="none" />
<polyline points="336.0,530.0 336.0,525.5" stroke="#333" stroke-width="0.7" fill="none" />
<polyline points="327.0,528.0 327.0,532.5" stroke="#333" stroke-width="0.7" fill="none" />
<polyline points="318.0,524.0 318.0,530.0" stroke="#333" stroke-width="0.7" fill="none" />
<polygon points="321.0,514.8 327.0,512.3 331.5,514.4 325.5,517.0" stroke="#333" stroke-width="0.6" fill="#bdbdbd" />
<polygon points="338.5,515.2 344.0,514.0 348.5,517.2 343.0,519.5" stroke="#333" stroke-width="0.6" fill="#777" />
<polygon points="302.4,520.0 306.0,519.6 310.0,521.6 310.0,529.2 302.4,526.0" stroke="#444" stroke-width="0.6" fill="#e6e6e6" />
<ellipse cx="318.5" cy="523.8" rx="1.3" ry="1.0" stroke="#222" stroke-width="0.5" fill="#444" />
<ellipse cx="319.5" cy="528.2" rx="1.1" ry="0.9" stroke="#222" stroke-width="0.5" fill="#444" />
<ellipse cx="341.0" cy="526.5" rx="1.2" ry="1.0" stroke="#222" stroke-width="0.5" fill="#444" />
<ellipse cx="344.5" cy="522.5" rx="1.0" ry="0.8" stroke="#222" stroke-width="0.5" fill="#444" />
<ellipse cx="329.0" cy="521.5" rx="1.0" ry="0.8" stroke="#222" stroke-width="0.5" fill="#444" />
<ellipse cx="337.0" cy="520.5" rx="0.9" ry="0.7" stroke="#222" stroke-width="0.5" fill="#444" />
<line x1="360.9" y1="513.5" x2="347.7" y2="528.8" stroke="#666" stroke-width="0.6" />
<line x1="549.0" y1="187.6" x2="604.0" y2="161.0" stroke="#8a8a8a" stroke-width="0.5" />
<line x1="519.4" y1="11.0" x2="519.4" y2="46.0" stroke="#8a8a8a" stroke-width="0.5" />
<line x1="519.4" y1="50.0" x2="519.4" y2="70.0" stroke="#8a8a8a" stroke-width="0.5" />
<line x1="519.4" y1="100.0" x2="519.4" y2="113.0" stroke="#8a8a8a" stroke-width="0.5" />
<line x1="478.5" y1="104.0" x2="478.5" y2="135.0" stroke="#8a8a8a" stroke-width="0.5" />
<line x1="478.5" y1="139.0" x2="478.5" y2="163.0" stroke="#8a8a8a" stroke-width="0.5" />
<line x1="518.0" y1="177.0" x2="518.0" y2="190.0" stroke="#8a8a8a" stroke-width="0.5" />
<line x1="528.7" y1="58.1" x2="537.5" y2="58.1" stroke="#555" stroke-width="0.7" />
<line x1="462.6" y1="123.2" x2="467.5" y2="123.2" stroke="#555" stroke-width="0.7" />
<defs><filter id="glow" x="-20%" y="-60%" width="140%" height="220%"><feMorphology operator="dilate" radius="3" in="SourceAlpha" result="d"/><feGaussianBlur in="d" stdDeviation="4.5" result="b"/><feFlood flood-color="#fff" flood-opacity="0.8"/><feComposite in2="b" operator="in" result="w"/><feGaussianBlur in="SourceAlpha" stdDeviation="1.25" result="s"/><feFlood flood-color="#000" flood-opacity="0.62"/><feComposite in2="s" operator="in" result="sh"/><feMerge><feMergeNode in="w"/><feMergeNode in="sh"/><feMergeNode in="SourceGraphic"/></feMerge></filter></defs>
<text x="281" y="303" font-family="Liberation Serif" font-weight="bold" font-size="19" fill="#f3f3f3" letter-spacing="1.3" filter="url(#glow)">A<tspan font-size="15.5">QUA</tspan>P<tspan font-size="15.5">OND</tspan></text>
<text x="557.9" y="33.4" font-size="10.6" fill="#2a2a2a" >160.2</text>
<text x="557.4" y="62.4" font-size="10.6" fill="#2a2a2a" >160.1</text>
<text x="558.4" y="87.4" font-size="10.6" fill="#2a2a2a" >412.1</text>
<text x="558.4" y="121.4" font-size="10.6" fill="#2a2a2a" >143</text>
<text x="358.1" y="67.2" font-size="10.6" fill="#2a2a2a" >577</text>
<text x="417.1" y="139.4" font-size="10.6" fill="#2a2a2a" >721</text>
<text x="401.7" y="179.8" font-size="10.6" fill="#2a2a2a" >412.11</text>
<text x="625.7" y="223.2" font-size="10.6" fill="#2a2a2a" >721</text>
<text x="578.3" y="237.8" font-size="10.6" fill="#2a2a2a" >412.11</text>
<text x="564.3" y="254.0" font-size="10.6" fill="#2a2a2a" >903</text>
<text x="539.6" y="266.6" font-size="10.6" fill="#2a2a2a" >412.4</text>
<text x="540.2" y="290.8" font-size="10.6" fill="#2a2a2a" >595.1</text>
<text x="520.4" y="319.6" font-size="10.6" fill="#2a2a2a" >101</text>
<text x="415.2" y="227.0" font-size="10.6" fill="#2a2a2a" >412.5</text>
<text x="334.3" y="226.0" font-size="10.6" fill="#2a2a2a" >412.51</text>
<text x="323.3" y="269.2" font-size="10.6" fill="#2a2a2a" >174.3</text>
<text x="258.8" y="270.0" font-size="10.6" fill="#2a2a2a" >922</text>
<text x="242.7" y="311.6" font-size="10.6" fill="#2a2a2a" >230</text>
<text x="358.6" y="371.2" font-size="10.6" fill="#2a2a2a" >900.1</text>
<text x="299.8" y="394.4" font-size="10.6" fill="#2a2a2a" >412.6</text>
<text x="348.8" y="406.4" font-size="10.6" fill="#2a2a2a" >174.2</text>
<text x="449.4" y="357.4" font-size="10.6" fill="#2a2a2a" >174.4</text>
<text x="248.2" y="420.6" font-size="10.6" fill="#2a2a2a" >433</text>
<text x="105.9" y="342.2" font-size="10.6" fill="#2a2a2a" >161.2</text>
<text x="44.8" y="369.2" font-size="10.6" fill="#2a2a2a" >554.1</text>
<text x="22.1" y="386.8" font-size="10.6" fill="#2a2a2a" >507</text>
<text x="87.4" y="386.8" font-size="10.6" fill="#2a2a2a" >113</text>
<text x="45.8" y="406.2" font-size="10.6" fill="#2a2a2a" >900</text>
<text x="15.7" y="426.6" font-size="10.6" fill="#2a2a2a" >800</text>
<text x="224.4" y="474.0" font-size="10.6" fill="#2a2a2a" >412.2</text>
<text x="143.2" y="475.2" font-size="10.6" fill="#2a2a2a" >554.2</text>
<text x="130.3" y="489.6" font-size="10.6" fill="#2a2a2a" >900.2</text>
<text x="163.1" y="504.8" font-size="10.6" fill="#2a2a2a" >914.2</text>
<text x="312.8" y="461.0" font-size="10.6" fill="#2a2a2a" >592</text>
<text x="268.2" y="504.0" font-size="10.6" fill="#2a2a2a" >894.1</text>
<text x="345.0" y="488.4" font-size="10.6" fill="#2a2a2a" >595</text>
<text x="353.2" y="511.6" font-size="10.6" fill="#2a2a2a" >894</text>
</svg></body></html>
